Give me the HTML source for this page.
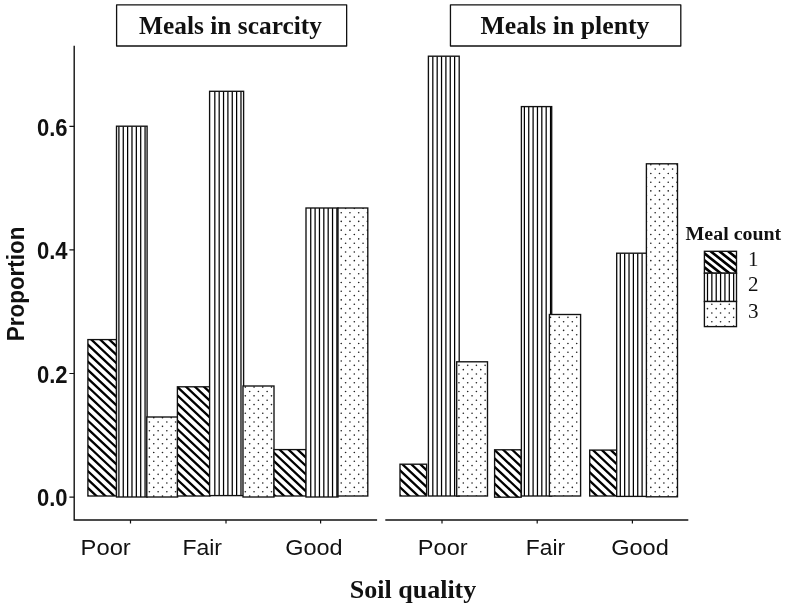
<!DOCTYPE html>
<html lang="en"><head><meta charset="utf-8"><title>Meals by soil quality</title>
<style>
html,body{margin:0;padding:0;background:#fff}
svg{display:block}
.sb{font-family:"Liberation Serif",serif;font-weight:bold;fill:#111}
.sr{font-family:"Liberation Serif",serif;fill:#111}
.ab{font-family:"Liberation Sans",sans-serif;font-weight:bold;fill:#111}
.xr{font-family:"Liberation Sans",sans-serif;fill:#111}
</style></head><body>
<svg width="785" height="607" viewBox="0 0 785 607">
<rect width="785" height="607" fill="#fff"/>
<rect x="116.6" y="4.85" width="230.05" height="41.15" fill="#fff" stroke="#111" stroke-width="1.3" stroke-linejoin="round"/>
<rect x="450.45" y="4.85" width="230.35" height="41.15" fill="#fff" stroke="#111" stroke-width="1.3" stroke-linejoin="round"/>
<text x="230.5" y="34.3" text-anchor="middle" class="sb" font-size="25.5" textLength="182.8" lengthAdjust="spacingAndGlyphs">Meals in scarcity</text>
<text x="565" y="34.3" text-anchor="middle" class="sb" font-size="25.5" textLength="169" lengthAdjust="spacingAndGlyphs">Meals in plenty</text>
<path d="M74.2 45.8V520H377.1" fill="none" stroke="#111" stroke-width="1.4"/>
<path d="M385.3 520H688.3" fill="none" stroke="#111" stroke-width="1.4"/>
<path d="M69.4 497.1H74.2M69.4 373.5H74.2M69.4 249.9H74.2M69.4 126.3H74.2M130.5 520V523.6M226.0 520V523.6M320.6 520V523.6M442.0 520V523.6M537.2 520V523.6M632.4 520V523.6" fill="none" stroke="#111" stroke-width="1.2"/>
<text x="37.0" y="506.4" class="ab" font-size="23" textLength="30.6" lengthAdjust="spacingAndGlyphs">0.0</text>
<text x="37.0" y="382.8" class="ab" font-size="23" textLength="30.6" lengthAdjust="spacingAndGlyphs">0.2</text>
<text x="37.0" y="259.2" class="ab" font-size="23" textLength="30.6" lengthAdjust="spacingAndGlyphs">0.4</text>
<text x="37.0" y="135.6" class="ab" font-size="23" textLength="30.6" lengthAdjust="spacingAndGlyphs">0.6</text>
<clipPath id="c0"><rect x="87.90" y="339.60" width="28.60" height="156.40"/></clipPath>
<rect x="87.90" y="339.60" width="28.60" height="156.40" fill="#fff"/>
<g clip-path="url(#c0)">
<path d="M84.90 308.23L119.50 340.84M84.90 316.65L119.50 349.26M84.90 325.08L119.50 357.68M84.90 333.50L119.50 366.11M84.90 341.92L119.50 374.53M84.90 350.35L119.50 382.95M84.90 358.77L119.50 391.37M84.90 367.19L119.50 399.80M84.90 375.62L119.50 408.22M84.90 384.04L119.50 416.64M84.90 392.46L119.50 425.07M84.90 400.88L119.50 433.49M84.90 409.31L119.50 441.91M84.90 417.73L119.50 450.34M84.90 426.15L119.50 458.76M84.90 434.58L119.50 467.18M84.90 443.00L119.50 475.60M84.90 451.42L119.50 484.03M84.90 459.84L119.50 492.45M84.90 468.27L119.50 500.87M84.90 476.69L119.50 509.30M84.90 485.11L119.50 517.72M84.90 493.54L119.50 526.14" stroke="#000" stroke-width="2.3" fill="none"/>
</g>
<rect x="87.90" y="339.60" width="28.60" height="156.40" fill="none" stroke="#111" stroke-width="1.35"/>
<clipPath id="c1"><rect x="116.50" y="126.20" width="30.60" height="370.80"/></clipPath>
<rect x="116.50" y="126.20" width="30.60" height="370.80" fill="#fff"/>
<g clip-path="url(#c1)">
<path d="M118.90 126.20V497.00M123.26 126.20V497.00M127.62 126.20V497.00M131.98 126.20V497.00M136.34 126.20V497.00M140.70 126.20V497.00M145.06 126.20V497.00" stroke="#000" stroke-width="1.25" fill="none"/>
</g>
<rect x="116.50" y="126.20" width="30.60" height="370.80" fill="none" stroke="#111" stroke-width="1.35"/>
<clipPath id="c2"><rect x="146.80" y="417.00" width="30.80" height="80.00"/></clipPath>
<rect x="146.80" y="417.00" width="30.80" height="80.00" fill="#fff"/>
<g clip-path="url(#c2)">
<g fill="#222"><circle cx="136.32" cy="408.92" r="0.82"/><circle cx="145.04" cy="408.92" r="0.82"/><circle cx="153.76" cy="408.92" r="0.82"/><circle cx="162.48" cy="408.92" r="0.82"/><circle cx="171.20" cy="408.92" r="0.82"/><circle cx="131.96" cy="413.28" r="0.82"/><circle cx="140.68" cy="413.28" r="0.82"/><circle cx="149.40" cy="413.28" r="0.82"/><circle cx="158.12" cy="413.28" r="0.82"/><circle cx="166.84" cy="413.28" r="0.82"/><circle cx="175.56" cy="413.28" r="0.82"/><circle cx="136.32" cy="417.64" r="0.82"/><circle cx="145.04" cy="417.64" r="0.82"/><circle cx="153.76" cy="417.64" r="0.82"/><circle cx="162.48" cy="417.64" r="0.82"/><circle cx="171.20" cy="417.64" r="0.82"/><circle cx="131.96" cy="422.00" r="0.82"/><circle cx="140.68" cy="422.00" r="0.82"/><circle cx="149.40" cy="422.00" r="0.82"/><circle cx="158.12" cy="422.00" r="0.82"/><circle cx="166.84" cy="422.00" r="0.82"/><circle cx="175.56" cy="422.00" r="0.82"/><circle cx="136.32" cy="426.36" r="0.82"/><circle cx="145.04" cy="426.36" r="0.82"/><circle cx="153.76" cy="426.36" r="0.82"/><circle cx="162.48" cy="426.36" r="0.82"/><circle cx="171.20" cy="426.36" r="0.82"/><circle cx="131.96" cy="430.72" r="0.82"/><circle cx="140.68" cy="430.72" r="0.82"/><circle cx="149.40" cy="430.72" r="0.82"/><circle cx="158.12" cy="430.72" r="0.82"/><circle cx="166.84" cy="430.72" r="0.82"/><circle cx="175.56" cy="430.72" r="0.82"/><circle cx="136.32" cy="435.08" r="0.82"/><circle cx="145.04" cy="435.08" r="0.82"/><circle cx="153.76" cy="435.08" r="0.82"/><circle cx="162.48" cy="435.08" r="0.82"/><circle cx="171.20" cy="435.08" r="0.82"/><circle cx="131.96" cy="439.44" r="0.82"/><circle cx="140.68" cy="439.44" r="0.82"/><circle cx="149.40" cy="439.44" r="0.82"/><circle cx="158.12" cy="439.44" r="0.82"/><circle cx="166.84" cy="439.44" r="0.82"/><circle cx="175.56" cy="439.44" r="0.82"/><circle cx="136.32" cy="443.80" r="0.82"/><circle cx="145.04" cy="443.80" r="0.82"/><circle cx="153.76" cy="443.80" r="0.82"/><circle cx="162.48" cy="443.80" r="0.82"/><circle cx="171.20" cy="443.80" r="0.82"/><circle cx="131.96" cy="448.16" r="0.82"/><circle cx="140.68" cy="448.16" r="0.82"/><circle cx="149.40" cy="448.16" r="0.82"/><circle cx="158.12" cy="448.16" r="0.82"/><circle cx="166.84" cy="448.16" r="0.82"/><circle cx="175.56" cy="448.16" r="0.82"/><circle cx="136.32" cy="452.52" r="0.82"/><circle cx="145.04" cy="452.52" r="0.82"/><circle cx="153.76" cy="452.52" r="0.82"/><circle cx="162.48" cy="452.52" r="0.82"/><circle cx="171.20" cy="452.52" r="0.82"/><circle cx="131.96" cy="456.88" r="0.82"/><circle cx="140.68" cy="456.88" r="0.82"/><circle cx="149.40" cy="456.88" r="0.82"/><circle cx="158.12" cy="456.88" r="0.82"/><circle cx="166.84" cy="456.88" r="0.82"/><circle cx="175.56" cy="456.88" r="0.82"/><circle cx="136.32" cy="461.24" r="0.82"/><circle cx="145.04" cy="461.24" r="0.82"/><circle cx="153.76" cy="461.24" r="0.82"/><circle cx="162.48" cy="461.24" r="0.82"/><circle cx="171.20" cy="461.24" r="0.82"/><circle cx="131.96" cy="465.60" r="0.82"/><circle cx="140.68" cy="465.60" r="0.82"/><circle cx="149.40" cy="465.60" r="0.82"/><circle cx="158.12" cy="465.60" r="0.82"/><circle cx="166.84" cy="465.60" r="0.82"/><circle cx="175.56" cy="465.60" r="0.82"/><circle cx="136.32" cy="469.96" r="0.82"/><circle cx="145.04" cy="469.96" r="0.82"/><circle cx="153.76" cy="469.96" r="0.82"/><circle cx="162.48" cy="469.96" r="0.82"/><circle cx="171.20" cy="469.96" r="0.82"/><circle cx="131.96" cy="474.32" r="0.82"/><circle cx="140.68" cy="474.32" r="0.82"/><circle cx="149.40" cy="474.32" r="0.82"/><circle cx="158.12" cy="474.32" r="0.82"/><circle cx="166.84" cy="474.32" r="0.82"/><circle cx="175.56" cy="474.32" r="0.82"/><circle cx="136.32" cy="478.68" r="0.82"/><circle cx="145.04" cy="478.68" r="0.82"/><circle cx="153.76" cy="478.68" r="0.82"/><circle cx="162.48" cy="478.68" r="0.82"/><circle cx="171.20" cy="478.68" r="0.82"/><circle cx="131.96" cy="483.04" r="0.82"/><circle cx="140.68" cy="483.04" r="0.82"/><circle cx="149.40" cy="483.04" r="0.82"/><circle cx="158.12" cy="483.04" r="0.82"/><circle cx="166.84" cy="483.04" r="0.82"/><circle cx="175.56" cy="483.04" r="0.82"/><circle cx="136.32" cy="487.40" r="0.82"/><circle cx="145.04" cy="487.40" r="0.82"/><circle cx="153.76" cy="487.40" r="0.82"/><circle cx="162.48" cy="487.40" r="0.82"/><circle cx="171.20" cy="487.40" r="0.82"/><circle cx="131.96" cy="491.76" r="0.82"/><circle cx="140.68" cy="491.76" r="0.82"/><circle cx="149.40" cy="491.76" r="0.82"/><circle cx="158.12" cy="491.76" r="0.82"/><circle cx="166.84" cy="491.76" r="0.82"/><circle cx="175.56" cy="491.76" r="0.82"/><circle cx="136.32" cy="496.12" r="0.82"/><circle cx="145.04" cy="496.12" r="0.82"/><circle cx="153.76" cy="496.12" r="0.82"/><circle cx="162.48" cy="496.12" r="0.82"/><circle cx="171.20" cy="496.12" r="0.82"/></g>
</g>
<rect x="146.80" y="417.00" width="30.80" height="80.00" fill="none" stroke="#111" stroke-width="1.35"/>
<clipPath id="c3"><rect x="177.40" y="386.80" width="32.60" height="109.20"/></clipPath>
<rect x="177.40" y="386.80" width="32.60" height="109.20" fill="#fff"/>
<g clip-path="url(#c3)">
<path d="M174.40 350.46L213.00 386.83M174.40 358.88L213.00 395.26M174.40 367.30L213.00 403.68M174.40 375.73L213.00 412.10M174.40 384.15L213.00 420.52M174.40 392.57L213.00 428.95M174.40 401.00L213.00 437.37M174.40 409.42L213.00 445.79M174.40 417.84L213.00 454.22M174.40 426.26L213.00 462.64M174.40 434.69L213.00 471.06M174.40 443.11L213.00 479.48M174.40 451.53L213.00 487.91M174.40 459.96L213.00 496.33M174.40 468.38L213.00 504.75M174.40 476.80L213.00 513.18M174.40 485.22L213.00 521.60M174.40 493.65L213.00 530.02" stroke="#000" stroke-width="2.3" fill="none"/>
</g>
<rect x="177.40" y="386.80" width="32.60" height="109.20" fill="none" stroke="#111" stroke-width="1.35"/>
<clipPath id="c4"><rect x="209.60" y="91.30" width="34.00" height="404.30"/></clipPath>
<rect x="209.60" y="91.30" width="34.00" height="404.30" fill="#fff"/>
<g clip-path="url(#c4)">
<path d="M214.82 91.30V495.60M219.18 91.30V495.60M223.54 91.30V495.60M227.90 91.30V495.60M232.26 91.30V495.60M236.62 91.30V495.60M240.98 91.30V495.60" stroke="#000" stroke-width="1.25" fill="none"/>
</g>
<rect x="209.60" y="91.30" width="34.00" height="404.30" fill="none" stroke="#111" stroke-width="1.35"/>
<clipPath id="c5"><rect x="243.00" y="386.00" width="31.00" height="111.00"/></clipPath>
<rect x="243.00" y="386.00" width="31.00" height="111.00" fill="#fff"/>
<g clip-path="url(#c5)">
<g fill="#222"><circle cx="227.88" cy="378.40" r="0.82"/><circle cx="236.60" cy="378.40" r="0.82"/><circle cx="245.32" cy="378.40" r="0.82"/><circle cx="254.04" cy="378.40" r="0.82"/><circle cx="262.76" cy="378.40" r="0.82"/><circle cx="271.48" cy="378.40" r="0.82"/><circle cx="232.24" cy="382.76" r="0.82"/><circle cx="240.96" cy="382.76" r="0.82"/><circle cx="249.68" cy="382.76" r="0.82"/><circle cx="258.40" cy="382.76" r="0.82"/><circle cx="267.12" cy="382.76" r="0.82"/><circle cx="275.84" cy="382.76" r="0.82"/><circle cx="227.88" cy="387.12" r="0.82"/><circle cx="236.60" cy="387.12" r="0.82"/><circle cx="245.32" cy="387.12" r="0.82"/><circle cx="254.04" cy="387.12" r="0.82"/><circle cx="262.76" cy="387.12" r="0.82"/><circle cx="271.48" cy="387.12" r="0.82"/><circle cx="232.24" cy="391.48" r="0.82"/><circle cx="240.96" cy="391.48" r="0.82"/><circle cx="249.68" cy="391.48" r="0.82"/><circle cx="258.40" cy="391.48" r="0.82"/><circle cx="267.12" cy="391.48" r="0.82"/><circle cx="275.84" cy="391.48" r="0.82"/><circle cx="227.88" cy="395.84" r="0.82"/><circle cx="236.60" cy="395.84" r="0.82"/><circle cx="245.32" cy="395.84" r="0.82"/><circle cx="254.04" cy="395.84" r="0.82"/><circle cx="262.76" cy="395.84" r="0.82"/><circle cx="271.48" cy="395.84" r="0.82"/><circle cx="232.24" cy="400.20" r="0.82"/><circle cx="240.96" cy="400.20" r="0.82"/><circle cx="249.68" cy="400.20" r="0.82"/><circle cx="258.40" cy="400.20" r="0.82"/><circle cx="267.12" cy="400.20" r="0.82"/><circle cx="275.84" cy="400.20" r="0.82"/><circle cx="227.88" cy="404.56" r="0.82"/><circle cx="236.60" cy="404.56" r="0.82"/><circle cx="245.32" cy="404.56" r="0.82"/><circle cx="254.04" cy="404.56" r="0.82"/><circle cx="262.76" cy="404.56" r="0.82"/><circle cx="271.48" cy="404.56" r="0.82"/><circle cx="232.24" cy="408.92" r="0.82"/><circle cx="240.96" cy="408.92" r="0.82"/><circle cx="249.68" cy="408.92" r="0.82"/><circle cx="258.40" cy="408.92" r="0.82"/><circle cx="267.12" cy="408.92" r="0.82"/><circle cx="275.84" cy="408.92" r="0.82"/><circle cx="227.88" cy="413.28" r="0.82"/><circle cx="236.60" cy="413.28" r="0.82"/><circle cx="245.32" cy="413.28" r="0.82"/><circle cx="254.04" cy="413.28" r="0.82"/><circle cx="262.76" cy="413.28" r="0.82"/><circle cx="271.48" cy="413.28" r="0.82"/><circle cx="232.24" cy="417.64" r="0.82"/><circle cx="240.96" cy="417.64" r="0.82"/><circle cx="249.68" cy="417.64" r="0.82"/><circle cx="258.40" cy="417.64" r="0.82"/><circle cx="267.12" cy="417.64" r="0.82"/><circle cx="275.84" cy="417.64" r="0.82"/><circle cx="227.88" cy="422.00" r="0.82"/><circle cx="236.60" cy="422.00" r="0.82"/><circle cx="245.32" cy="422.00" r="0.82"/><circle cx="254.04" cy="422.00" r="0.82"/><circle cx="262.76" cy="422.00" r="0.82"/><circle cx="271.48" cy="422.00" r="0.82"/><circle cx="232.24" cy="426.36" r="0.82"/><circle cx="240.96" cy="426.36" r="0.82"/><circle cx="249.68" cy="426.36" r="0.82"/><circle cx="258.40" cy="426.36" r="0.82"/><circle cx="267.12" cy="426.36" r="0.82"/><circle cx="275.84" cy="426.36" r="0.82"/><circle cx="227.88" cy="430.72" r="0.82"/><circle cx="236.60" cy="430.72" r="0.82"/><circle cx="245.32" cy="430.72" r="0.82"/><circle cx="254.04" cy="430.72" r="0.82"/><circle cx="262.76" cy="430.72" r="0.82"/><circle cx="271.48" cy="430.72" r="0.82"/><circle cx="232.24" cy="435.08" r="0.82"/><circle cx="240.96" cy="435.08" r="0.82"/><circle cx="249.68" cy="435.08" r="0.82"/><circle cx="258.40" cy="435.08" r="0.82"/><circle cx="267.12" cy="435.08" r="0.82"/><circle cx="275.84" cy="435.08" r="0.82"/><circle cx="227.88" cy="439.44" r="0.82"/><circle cx="236.60" cy="439.44" r="0.82"/><circle cx="245.32" cy="439.44" r="0.82"/><circle cx="254.04" cy="439.44" r="0.82"/><circle cx="262.76" cy="439.44" r="0.82"/><circle cx="271.48" cy="439.44" r="0.82"/><circle cx="232.24" cy="443.80" r="0.82"/><circle cx="240.96" cy="443.80" r="0.82"/><circle cx="249.68" cy="443.80" r="0.82"/><circle cx="258.40" cy="443.80" r="0.82"/><circle cx="267.12" cy="443.80" r="0.82"/><circle cx="275.84" cy="443.80" r="0.82"/><circle cx="227.88" cy="448.16" r="0.82"/><circle cx="236.60" cy="448.16" r="0.82"/><circle cx="245.32" cy="448.16" r="0.82"/><circle cx="254.04" cy="448.16" r="0.82"/><circle cx="262.76" cy="448.16" r="0.82"/><circle cx="271.48" cy="448.16" r="0.82"/><circle cx="232.24" cy="452.52" r="0.82"/><circle cx="240.96" cy="452.52" r="0.82"/><circle cx="249.68" cy="452.52" r="0.82"/><circle cx="258.40" cy="452.52" r="0.82"/><circle cx="267.12" cy="452.52" r="0.82"/><circle cx="275.84" cy="452.52" r="0.82"/><circle cx="227.88" cy="456.88" r="0.82"/><circle cx="236.60" cy="456.88" r="0.82"/><circle cx="245.32" cy="456.88" r="0.82"/><circle cx="254.04" cy="456.88" r="0.82"/><circle cx="262.76" cy="456.88" r="0.82"/><circle cx="271.48" cy="456.88" r="0.82"/><circle cx="232.24" cy="461.24" r="0.82"/><circle cx="240.96" cy="461.24" r="0.82"/><circle cx="249.68" cy="461.24" r="0.82"/><circle cx="258.40" cy="461.24" r="0.82"/><circle cx="267.12" cy="461.24" r="0.82"/><circle cx="275.84" cy="461.24" r="0.82"/><circle cx="227.88" cy="465.60" r="0.82"/><circle cx="236.60" cy="465.60" r="0.82"/><circle cx="245.32" cy="465.60" r="0.82"/><circle cx="254.04" cy="465.60" r="0.82"/><circle cx="262.76" cy="465.60" r="0.82"/><circle cx="271.48" cy="465.60" r="0.82"/><circle cx="232.24" cy="469.96" r="0.82"/><circle cx="240.96" cy="469.96" r="0.82"/><circle cx="249.68" cy="469.96" r="0.82"/><circle cx="258.40" cy="469.96" r="0.82"/><circle cx="267.12" cy="469.96" r="0.82"/><circle cx="275.84" cy="469.96" r="0.82"/><circle cx="227.88" cy="474.32" r="0.82"/><circle cx="236.60" cy="474.32" r="0.82"/><circle cx="245.32" cy="474.32" r="0.82"/><circle cx="254.04" cy="474.32" r="0.82"/><circle cx="262.76" cy="474.32" r="0.82"/><circle cx="271.48" cy="474.32" r="0.82"/><circle cx="232.24" cy="478.68" r="0.82"/><circle cx="240.96" cy="478.68" r="0.82"/><circle cx="249.68" cy="478.68" r="0.82"/><circle cx="258.40" cy="478.68" r="0.82"/><circle cx="267.12" cy="478.68" r="0.82"/><circle cx="275.84" cy="478.68" r="0.82"/><circle cx="227.88" cy="483.04" r="0.82"/><circle cx="236.60" cy="483.04" r="0.82"/><circle cx="245.32" cy="483.04" r="0.82"/><circle cx="254.04" cy="483.04" r="0.82"/><circle cx="262.76" cy="483.04" r="0.82"/><circle cx="271.48" cy="483.04" r="0.82"/><circle cx="232.24" cy="487.40" r="0.82"/><circle cx="240.96" cy="487.40" r="0.82"/><circle cx="249.68" cy="487.40" r="0.82"/><circle cx="258.40" cy="487.40" r="0.82"/><circle cx="267.12" cy="487.40" r="0.82"/><circle cx="275.84" cy="487.40" r="0.82"/><circle cx="227.88" cy="491.76" r="0.82"/><circle cx="236.60" cy="491.76" r="0.82"/><circle cx="245.32" cy="491.76" r="0.82"/><circle cx="254.04" cy="491.76" r="0.82"/><circle cx="262.76" cy="491.76" r="0.82"/><circle cx="271.48" cy="491.76" r="0.82"/><circle cx="232.24" cy="496.12" r="0.82"/><circle cx="240.96" cy="496.12" r="0.82"/><circle cx="249.68" cy="496.12" r="0.82"/><circle cx="258.40" cy="496.12" r="0.82"/><circle cx="267.12" cy="496.12" r="0.82"/><circle cx="275.84" cy="496.12" r="0.82"/></g>
</g>
<rect x="243.00" y="386.00" width="31.00" height="111.00" fill="none" stroke="#111" stroke-width="1.35"/>
<clipPath id="c6"><rect x="274.00" y="449.60" width="32.00" height="46.40"/></clipPath>
<rect x="274.00" y="449.60" width="32.00" height="46.40" fill="#fff"/>
<g clip-path="url(#c6)">
<path d="M271.00 416.22L309.00 452.03M271.00 424.64L309.00 460.45M271.00 433.07L309.00 468.87M271.00 441.49L309.00 477.30M271.00 449.91L309.00 485.72M271.00 458.33L309.00 494.14M271.00 466.76L309.00 502.57M271.00 475.18L309.00 510.99M271.00 483.60L309.00 519.41M271.00 492.03L309.00 527.84M271.00 500.45L309.00 536.26" stroke="#000" stroke-width="2.3" fill="none"/>
</g>
<rect x="274.00" y="449.60" width="32.00" height="46.40" fill="none" stroke="#111" stroke-width="1.35"/>
<clipPath id="c7"><rect x="306.00" y="208.00" width="32.00" height="289.00"/></clipPath>
<rect x="306.00" y="208.00" width="32.00" height="289.00" fill="#fff"/>
<g clip-path="url(#c7)">
<path d="M310.74 208.00V497.00M315.10 208.00V497.00M319.46 208.00V497.00M323.82 208.00V497.00M328.18 208.00V497.00M332.54 208.00V497.00M336.90 208.00V497.00" stroke="#000" stroke-width="1.25" fill="none"/>
</g>
<rect x="306.00" y="208.00" width="32.00" height="289.00" fill="none" stroke="#111" stroke-width="1.35"/>
<clipPath id="c8"><rect x="338.00" y="208.00" width="29.80" height="288.00"/></clipPath>
<rect x="338.00" y="208.00" width="29.80" height="288.00" fill="#fff"/>
<g clip-path="url(#c8)">
<g fill="#222"><circle cx="328.16" cy="199.64" r="0.82"/><circle cx="336.88" cy="199.64" r="0.82"/><circle cx="345.60" cy="199.64" r="0.82"/><circle cx="354.32" cy="199.64" r="0.82"/><circle cx="363.04" cy="199.64" r="0.82"/><circle cx="323.80" cy="204.00" r="0.82"/><circle cx="332.52" cy="204.00" r="0.82"/><circle cx="341.24" cy="204.00" r="0.82"/><circle cx="349.96" cy="204.00" r="0.82"/><circle cx="358.68" cy="204.00" r="0.82"/><circle cx="367.40" cy="204.00" r="0.82"/><circle cx="328.16" cy="208.36" r="0.82"/><circle cx="336.88" cy="208.36" r="0.82"/><circle cx="345.60" cy="208.36" r="0.82"/><circle cx="354.32" cy="208.36" r="0.82"/><circle cx="363.04" cy="208.36" r="0.82"/><circle cx="323.80" cy="212.72" r="0.82"/><circle cx="332.52" cy="212.72" r="0.82"/><circle cx="341.24" cy="212.72" r="0.82"/><circle cx="349.96" cy="212.72" r="0.82"/><circle cx="358.68" cy="212.72" r="0.82"/><circle cx="367.40" cy="212.72" r="0.82"/><circle cx="328.16" cy="217.08" r="0.82"/><circle cx="336.88" cy="217.08" r="0.82"/><circle cx="345.60" cy="217.08" r="0.82"/><circle cx="354.32" cy="217.08" r="0.82"/><circle cx="363.04" cy="217.08" r="0.82"/><circle cx="323.80" cy="221.44" r="0.82"/><circle cx="332.52" cy="221.44" r="0.82"/><circle cx="341.24" cy="221.44" r="0.82"/><circle cx="349.96" cy="221.44" r="0.82"/><circle cx="358.68" cy="221.44" r="0.82"/><circle cx="367.40" cy="221.44" r="0.82"/><circle cx="328.16" cy="225.80" r="0.82"/><circle cx="336.88" cy="225.80" r="0.82"/><circle cx="345.60" cy="225.80" r="0.82"/><circle cx="354.32" cy="225.80" r="0.82"/><circle cx="363.04" cy="225.80" r="0.82"/><circle cx="323.80" cy="230.16" r="0.82"/><circle cx="332.52" cy="230.16" r="0.82"/><circle cx="341.24" cy="230.16" r="0.82"/><circle cx="349.96" cy="230.16" r="0.82"/><circle cx="358.68" cy="230.16" r="0.82"/><circle cx="367.40" cy="230.16" r="0.82"/><circle cx="328.16" cy="234.52" r="0.82"/><circle cx="336.88" cy="234.52" r="0.82"/><circle cx="345.60" cy="234.52" r="0.82"/><circle cx="354.32" cy="234.52" r="0.82"/><circle cx="363.04" cy="234.52" r="0.82"/><circle cx="323.80" cy="238.88" r="0.82"/><circle cx="332.52" cy="238.88" r="0.82"/><circle cx="341.24" cy="238.88" r="0.82"/><circle cx="349.96" cy="238.88" r="0.82"/><circle cx="358.68" cy="238.88" r="0.82"/><circle cx="367.40" cy="238.88" r="0.82"/><circle cx="328.16" cy="243.24" r="0.82"/><circle cx="336.88" cy="243.24" r="0.82"/><circle cx="345.60" cy="243.24" r="0.82"/><circle cx="354.32" cy="243.24" r="0.82"/><circle cx="363.04" cy="243.24" r="0.82"/><circle cx="323.80" cy="247.60" r="0.82"/><circle cx="332.52" cy="247.60" r="0.82"/><circle cx="341.24" cy="247.60" r="0.82"/><circle cx="349.96" cy="247.60" r="0.82"/><circle cx="358.68" cy="247.60" r="0.82"/><circle cx="367.40" cy="247.60" r="0.82"/><circle cx="328.16" cy="251.96" r="0.82"/><circle cx="336.88" cy="251.96" r="0.82"/><circle cx="345.60" cy="251.96" r="0.82"/><circle cx="354.32" cy="251.96" r="0.82"/><circle cx="363.04" cy="251.96" r="0.82"/><circle cx="323.80" cy="256.32" r="0.82"/><circle cx="332.52" cy="256.32" r="0.82"/><circle cx="341.24" cy="256.32" r="0.82"/><circle cx="349.96" cy="256.32" r="0.82"/><circle cx="358.68" cy="256.32" r="0.82"/><circle cx="367.40" cy="256.32" r="0.82"/><circle cx="328.16" cy="260.68" r="0.82"/><circle cx="336.88" cy="260.68" r="0.82"/><circle cx="345.60" cy="260.68" r="0.82"/><circle cx="354.32" cy="260.68" r="0.82"/><circle cx="363.04" cy="260.68" r="0.82"/><circle cx="323.80" cy="265.04" r="0.82"/><circle cx="332.52" cy="265.04" r="0.82"/><circle cx="341.24" cy="265.04" r="0.82"/><circle cx="349.96" cy="265.04" r="0.82"/><circle cx="358.68" cy="265.04" r="0.82"/><circle cx="367.40" cy="265.04" r="0.82"/><circle cx="328.16" cy="269.40" r="0.82"/><circle cx="336.88" cy="269.40" r="0.82"/><circle cx="345.60" cy="269.40" r="0.82"/><circle cx="354.32" cy="269.40" r="0.82"/><circle cx="363.04" cy="269.40" r="0.82"/><circle cx="323.80" cy="273.76" r="0.82"/><circle cx="332.52" cy="273.76" r="0.82"/><circle cx="341.24" cy="273.76" r="0.82"/><circle cx="349.96" cy="273.76" r="0.82"/><circle cx="358.68" cy="273.76" r="0.82"/><circle cx="367.40" cy="273.76" r="0.82"/><circle cx="328.16" cy="278.12" r="0.82"/><circle cx="336.88" cy="278.12" r="0.82"/><circle cx="345.60" cy="278.12" r="0.82"/><circle cx="354.32" cy="278.12" r="0.82"/><circle cx="363.04" cy="278.12" r="0.82"/><circle cx="323.80" cy="282.48" r="0.82"/><circle cx="332.52" cy="282.48" r="0.82"/><circle cx="341.24" cy="282.48" r="0.82"/><circle cx="349.96" cy="282.48" r="0.82"/><circle cx="358.68" cy="282.48" r="0.82"/><circle cx="367.40" cy="282.48" r="0.82"/><circle cx="328.16" cy="286.84" r="0.82"/><circle cx="336.88" cy="286.84" r="0.82"/><circle cx="345.60" cy="286.84" r="0.82"/><circle cx="354.32" cy="286.84" r="0.82"/><circle cx="363.04" cy="286.84" r="0.82"/><circle cx="323.80" cy="291.20" r="0.82"/><circle cx="332.52" cy="291.20" r="0.82"/><circle cx="341.24" cy="291.20" r="0.82"/><circle cx="349.96" cy="291.20" r="0.82"/><circle cx="358.68" cy="291.20" r="0.82"/><circle cx="367.40" cy="291.20" r="0.82"/><circle cx="328.16" cy="295.56" r="0.82"/><circle cx="336.88" cy="295.56" r="0.82"/><circle cx="345.60" cy="295.56" r="0.82"/><circle cx="354.32" cy="295.56" r="0.82"/><circle cx="363.04" cy="295.56" r="0.82"/><circle cx="323.80" cy="299.92" r="0.82"/><circle cx="332.52" cy="299.92" r="0.82"/><circle cx="341.24" cy="299.92" r="0.82"/><circle cx="349.96" cy="299.92" r="0.82"/><circle cx="358.68" cy="299.92" r="0.82"/><circle cx="367.40" cy="299.92" r="0.82"/><circle cx="328.16" cy="304.28" r="0.82"/><circle cx="336.88" cy="304.28" r="0.82"/><circle cx="345.60" cy="304.28" r="0.82"/><circle cx="354.32" cy="304.28" r="0.82"/><circle cx="363.04" cy="304.28" r="0.82"/><circle cx="323.80" cy="308.64" r="0.82"/><circle cx="332.52" cy="308.64" r="0.82"/><circle cx="341.24" cy="308.64" r="0.82"/><circle cx="349.96" cy="308.64" r="0.82"/><circle cx="358.68" cy="308.64" r="0.82"/><circle cx="367.40" cy="308.64" r="0.82"/><circle cx="328.16" cy="313.00" r="0.82"/><circle cx="336.88" cy="313.00" r="0.82"/><circle cx="345.60" cy="313.00" r="0.82"/><circle cx="354.32" cy="313.00" r="0.82"/><circle cx="363.04" cy="313.00" r="0.82"/><circle cx="323.80" cy="317.36" r="0.82"/><circle cx="332.52" cy="317.36" r="0.82"/><circle cx="341.24" cy="317.36" r="0.82"/><circle cx="349.96" cy="317.36" r="0.82"/><circle cx="358.68" cy="317.36" r="0.82"/><circle cx="367.40" cy="317.36" r="0.82"/><circle cx="328.16" cy="321.72" r="0.82"/><circle cx="336.88" cy="321.72" r="0.82"/><circle cx="345.60" cy="321.72" r="0.82"/><circle cx="354.32" cy="321.72" r="0.82"/><circle cx="363.04" cy="321.72" r="0.82"/><circle cx="323.80" cy="326.08" r="0.82"/><circle cx="332.52" cy="326.08" r="0.82"/><circle cx="341.24" cy="326.08" r="0.82"/><circle cx="349.96" cy="326.08" r="0.82"/><circle cx="358.68" cy="326.08" r="0.82"/><circle cx="367.40" cy="326.08" r="0.82"/><circle cx="328.16" cy="330.44" r="0.82"/><circle cx="336.88" cy="330.44" r="0.82"/><circle cx="345.60" cy="330.44" r="0.82"/><circle cx="354.32" cy="330.44" r="0.82"/><circle cx="363.04" cy="330.44" r="0.82"/><circle cx="323.80" cy="334.80" r="0.82"/><circle cx="332.52" cy="334.80" r="0.82"/><circle cx="341.24" cy="334.80" r="0.82"/><circle cx="349.96" cy="334.80" r="0.82"/><circle cx="358.68" cy="334.80" r="0.82"/><circle cx="367.40" cy="334.80" r="0.82"/><circle cx="328.16" cy="339.16" r="0.82"/><circle cx="336.88" cy="339.16" r="0.82"/><circle cx="345.60" cy="339.16" r="0.82"/><circle cx="354.32" cy="339.16" r="0.82"/><circle cx="363.04" cy="339.16" r="0.82"/><circle cx="323.80" cy="343.52" r="0.82"/><circle cx="332.52" cy="343.52" r="0.82"/><circle cx="341.24" cy="343.52" r="0.82"/><circle cx="349.96" cy="343.52" r="0.82"/><circle cx="358.68" cy="343.52" r="0.82"/><circle cx="367.40" cy="343.52" r="0.82"/><circle cx="328.16" cy="347.88" r="0.82"/><circle cx="336.88" cy="347.88" r="0.82"/><circle cx="345.60" cy="347.88" r="0.82"/><circle cx="354.32" cy="347.88" r="0.82"/><circle cx="363.04" cy="347.88" r="0.82"/><circle cx="323.80" cy="352.24" r="0.82"/><circle cx="332.52" cy="352.24" r="0.82"/><circle cx="341.24" cy="352.24" r="0.82"/><circle cx="349.96" cy="352.24" r="0.82"/><circle cx="358.68" cy="352.24" r="0.82"/><circle cx="367.40" cy="352.24" r="0.82"/><circle cx="328.16" cy="356.60" r="0.82"/><circle cx="336.88" cy="356.60" r="0.82"/><circle cx="345.60" cy="356.60" r="0.82"/><circle cx="354.32" cy="356.60" r="0.82"/><circle cx="363.04" cy="356.60" r="0.82"/><circle cx="323.80" cy="360.96" r="0.82"/><circle cx="332.52" cy="360.96" r="0.82"/><circle cx="341.24" cy="360.96" r="0.82"/><circle cx="349.96" cy="360.96" r="0.82"/><circle cx="358.68" cy="360.96" r="0.82"/><circle cx="367.40" cy="360.96" r="0.82"/><circle cx="328.16" cy="365.32" r="0.82"/><circle cx="336.88" cy="365.32" r="0.82"/><circle cx="345.60" cy="365.32" r="0.82"/><circle cx="354.32" cy="365.32" r="0.82"/><circle cx="363.04" cy="365.32" r="0.82"/><circle cx="323.80" cy="369.68" r="0.82"/><circle cx="332.52" cy="369.68" r="0.82"/><circle cx="341.24" cy="369.68" r="0.82"/><circle cx="349.96" cy="369.68" r="0.82"/><circle cx="358.68" cy="369.68" r="0.82"/><circle cx="367.40" cy="369.68" r="0.82"/><circle cx="328.16" cy="374.04" r="0.82"/><circle cx="336.88" cy="374.04" r="0.82"/><circle cx="345.60" cy="374.04" r="0.82"/><circle cx="354.32" cy="374.04" r="0.82"/><circle cx="363.04" cy="374.04" r="0.82"/><circle cx="323.80" cy="378.40" r="0.82"/><circle cx="332.52" cy="378.40" r="0.82"/><circle cx="341.24" cy="378.40" r="0.82"/><circle cx="349.96" cy="378.40" r="0.82"/><circle cx="358.68" cy="378.40" r="0.82"/><circle cx="367.40" cy="378.40" r="0.82"/><circle cx="328.16" cy="382.76" r="0.82"/><circle cx="336.88" cy="382.76" r="0.82"/><circle cx="345.60" cy="382.76" r="0.82"/><circle cx="354.32" cy="382.76" r="0.82"/><circle cx="363.04" cy="382.76" r="0.82"/><circle cx="323.80" cy="387.12" r="0.82"/><circle cx="332.52" cy="387.12" r="0.82"/><circle cx="341.24" cy="387.12" r="0.82"/><circle cx="349.96" cy="387.12" r="0.82"/><circle cx="358.68" cy="387.12" r="0.82"/><circle cx="367.40" cy="387.12" r="0.82"/><circle cx="328.16" cy="391.48" r="0.82"/><circle cx="336.88" cy="391.48" r="0.82"/><circle cx="345.60" cy="391.48" r="0.82"/><circle cx="354.32" cy="391.48" r="0.82"/><circle cx="363.04" cy="391.48" r="0.82"/><circle cx="323.80" cy="395.84" r="0.82"/><circle cx="332.52" cy="395.84" r="0.82"/><circle cx="341.24" cy="395.84" r="0.82"/><circle cx="349.96" cy="395.84" r="0.82"/><circle cx="358.68" cy="395.84" r="0.82"/><circle cx="367.40" cy="395.84" r="0.82"/><circle cx="328.16" cy="400.20" r="0.82"/><circle cx="336.88" cy="400.20" r="0.82"/><circle cx="345.60" cy="400.20" r="0.82"/><circle cx="354.32" cy="400.20" r="0.82"/><circle cx="363.04" cy="400.20" r="0.82"/><circle cx="323.80" cy="404.56" r="0.82"/><circle cx="332.52" cy="404.56" r="0.82"/><circle cx="341.24" cy="404.56" r="0.82"/><circle cx="349.96" cy="404.56" r="0.82"/><circle cx="358.68" cy="404.56" r="0.82"/><circle cx="367.40" cy="404.56" r="0.82"/><circle cx="328.16" cy="408.92" r="0.82"/><circle cx="336.88" cy="408.92" r="0.82"/><circle cx="345.60" cy="408.92" r="0.82"/><circle cx="354.32" cy="408.92" r="0.82"/><circle cx="363.04" cy="408.92" r="0.82"/><circle cx="323.80" cy="413.28" r="0.82"/><circle cx="332.52" cy="413.28" r="0.82"/><circle cx="341.24" cy="413.28" r="0.82"/><circle cx="349.96" cy="413.28" r="0.82"/><circle cx="358.68" cy="413.28" r="0.82"/><circle cx="367.40" cy="413.28" r="0.82"/><circle cx="328.16" cy="417.64" r="0.82"/><circle cx="336.88" cy="417.64" r="0.82"/><circle cx="345.60" cy="417.64" r="0.82"/><circle cx="354.32" cy="417.64" r="0.82"/><circle cx="363.04" cy="417.64" r="0.82"/><circle cx="323.80" cy="422.00" r="0.82"/><circle cx="332.52" cy="422.00" r="0.82"/><circle cx="341.24" cy="422.00" r="0.82"/><circle cx="349.96" cy="422.00" r="0.82"/><circle cx="358.68" cy="422.00" r="0.82"/><circle cx="367.40" cy="422.00" r="0.82"/><circle cx="328.16" cy="426.36" r="0.82"/><circle cx="336.88" cy="426.36" r="0.82"/><circle cx="345.60" cy="426.36" r="0.82"/><circle cx="354.32" cy="426.36" r="0.82"/><circle cx="363.04" cy="426.36" r="0.82"/><circle cx="323.80" cy="430.72" r="0.82"/><circle cx="332.52" cy="430.72" r="0.82"/><circle cx="341.24" cy="430.72" r="0.82"/><circle cx="349.96" cy="430.72" r="0.82"/><circle cx="358.68" cy="430.72" r="0.82"/><circle cx="367.40" cy="430.72" r="0.82"/><circle cx="328.16" cy="435.08" r="0.82"/><circle cx="336.88" cy="435.08" r="0.82"/><circle cx="345.60" cy="435.08" r="0.82"/><circle cx="354.32" cy="435.08" r="0.82"/><circle cx="363.04" cy="435.08" r="0.82"/><circle cx="323.80" cy="439.44" r="0.82"/><circle cx="332.52" cy="439.44" r="0.82"/><circle cx="341.24" cy="439.44" r="0.82"/><circle cx="349.96" cy="439.44" r="0.82"/><circle cx="358.68" cy="439.44" r="0.82"/><circle cx="367.40" cy="439.44" r="0.82"/><circle cx="328.16" cy="443.80" r="0.82"/><circle cx="336.88" cy="443.80" r="0.82"/><circle cx="345.60" cy="443.80" r="0.82"/><circle cx="354.32" cy="443.80" r="0.82"/><circle cx="363.04" cy="443.80" r="0.82"/><circle cx="323.80" cy="448.16" r="0.82"/><circle cx="332.52" cy="448.16" r="0.82"/><circle cx="341.24" cy="448.16" r="0.82"/><circle cx="349.96" cy="448.16" r="0.82"/><circle cx="358.68" cy="448.16" r="0.82"/><circle cx="367.40" cy="448.16" r="0.82"/><circle cx="328.16" cy="452.52" r="0.82"/><circle cx="336.88" cy="452.52" r="0.82"/><circle cx="345.60" cy="452.52" r="0.82"/><circle cx="354.32" cy="452.52" r="0.82"/><circle cx="363.04" cy="452.52" r="0.82"/><circle cx="323.80" cy="456.88" r="0.82"/><circle cx="332.52" cy="456.88" r="0.82"/><circle cx="341.24" cy="456.88" r="0.82"/><circle cx="349.96" cy="456.88" r="0.82"/><circle cx="358.68" cy="456.88" r="0.82"/><circle cx="367.40" cy="456.88" r="0.82"/><circle cx="328.16" cy="461.24" r="0.82"/><circle cx="336.88" cy="461.24" r="0.82"/><circle cx="345.60" cy="461.24" r="0.82"/><circle cx="354.32" cy="461.24" r="0.82"/><circle cx="363.04" cy="461.24" r="0.82"/><circle cx="323.80" cy="465.60" r="0.82"/><circle cx="332.52" cy="465.60" r="0.82"/><circle cx="341.24" cy="465.60" r="0.82"/><circle cx="349.96" cy="465.60" r="0.82"/><circle cx="358.68" cy="465.60" r="0.82"/><circle cx="367.40" cy="465.60" r="0.82"/><circle cx="328.16" cy="469.96" r="0.82"/><circle cx="336.88" cy="469.96" r="0.82"/><circle cx="345.60" cy="469.96" r="0.82"/><circle cx="354.32" cy="469.96" r="0.82"/><circle cx="363.04" cy="469.96" r="0.82"/><circle cx="323.80" cy="474.32" r="0.82"/><circle cx="332.52" cy="474.32" r="0.82"/><circle cx="341.24" cy="474.32" r="0.82"/><circle cx="349.96" cy="474.32" r="0.82"/><circle cx="358.68" cy="474.32" r="0.82"/><circle cx="367.40" cy="474.32" r="0.82"/><circle cx="328.16" cy="478.68" r="0.82"/><circle cx="336.88" cy="478.68" r="0.82"/><circle cx="345.60" cy="478.68" r="0.82"/><circle cx="354.32" cy="478.68" r="0.82"/><circle cx="363.04" cy="478.68" r="0.82"/><circle cx="323.80" cy="483.04" r="0.82"/><circle cx="332.52" cy="483.04" r="0.82"/><circle cx="341.24" cy="483.04" r="0.82"/><circle cx="349.96" cy="483.04" r="0.82"/><circle cx="358.68" cy="483.04" r="0.82"/><circle cx="367.40" cy="483.04" r="0.82"/><circle cx="328.16" cy="487.40" r="0.82"/><circle cx="336.88" cy="487.40" r="0.82"/><circle cx="345.60" cy="487.40" r="0.82"/><circle cx="354.32" cy="487.40" r="0.82"/><circle cx="363.04" cy="487.40" r="0.82"/><circle cx="323.80" cy="491.76" r="0.82"/><circle cx="332.52" cy="491.76" r="0.82"/><circle cx="341.24" cy="491.76" r="0.82"/><circle cx="349.96" cy="491.76" r="0.82"/><circle cx="358.68" cy="491.76" r="0.82"/><circle cx="367.40" cy="491.76" r="0.82"/><circle cx="328.16" cy="496.12" r="0.82"/><circle cx="336.88" cy="496.12" r="0.82"/><circle cx="345.60" cy="496.12" r="0.82"/><circle cx="354.32" cy="496.12" r="0.82"/><circle cx="363.04" cy="496.12" r="0.82"/></g>
</g>
<rect x="338.00" y="208.00" width="29.80" height="288.00" fill="none" stroke="#111" stroke-width="1.35"/>
<clipPath id="c9"><rect x="400.00" y="464.20" width="26.60" height="31.80"/></clipPath>
<rect x="400.00" y="464.20" width="26.60" height="31.80" fill="#fff"/>
<g clip-path="url(#c9)">
<path d="M397.00 433.88L429.60 464.60M397.00 442.30L429.60 473.02M397.00 450.73L429.60 481.45M397.00 459.15L429.60 489.87M397.00 467.57L429.60 498.29M397.00 476.00L429.60 506.72M397.00 484.42L429.60 515.14M397.00 492.84L429.60 523.56M397.00 501.26L429.60 531.98" stroke="#000" stroke-width="2.3" fill="none"/>
</g>
<rect x="400.00" y="464.20" width="26.60" height="31.80" fill="none" stroke="#111" stroke-width="1.35"/>
<clipPath id="c10"><rect x="428.40" y="56.20" width="30.80" height="439.80"/></clipPath>
<rect x="428.40" y="56.20" width="30.80" height="439.80" fill="#fff"/>
<g clip-path="url(#c10)">
<path d="M432.82 56.20V496.00M437.18 56.20V496.00M441.54 56.20V496.00M445.90 56.20V496.00M450.26 56.20V496.00M454.62 56.20V496.00" stroke="#000" stroke-width="1.25" fill="none"/>
</g>
<rect x="428.40" y="56.20" width="30.80" height="439.80" fill="none" stroke="#111" stroke-width="1.35"/>
<clipPath id="c11"><rect x="456.70" y="361.80" width="30.80" height="134.20"/></clipPath>
<rect x="456.70" y="361.80" width="30.80" height="134.20" fill="#fff"/>
<g clip-path="url(#c11)">
<g fill="#222"><circle cx="441.52" cy="356.60" r="0.82"/><circle cx="450.24" cy="356.60" r="0.82"/><circle cx="458.96" cy="356.60" r="0.82"/><circle cx="467.68" cy="356.60" r="0.82"/><circle cx="476.40" cy="356.60" r="0.82"/><circle cx="485.12" cy="356.60" r="0.82"/><circle cx="445.88" cy="360.96" r="0.82"/><circle cx="454.60" cy="360.96" r="0.82"/><circle cx="463.32" cy="360.96" r="0.82"/><circle cx="472.04" cy="360.96" r="0.82"/><circle cx="480.76" cy="360.96" r="0.82"/><circle cx="489.48" cy="360.96" r="0.82"/><circle cx="441.52" cy="365.32" r="0.82"/><circle cx="450.24" cy="365.32" r="0.82"/><circle cx="458.96" cy="365.32" r="0.82"/><circle cx="467.68" cy="365.32" r="0.82"/><circle cx="476.40" cy="365.32" r="0.82"/><circle cx="485.12" cy="365.32" r="0.82"/><circle cx="445.88" cy="369.68" r="0.82"/><circle cx="454.60" cy="369.68" r="0.82"/><circle cx="463.32" cy="369.68" r="0.82"/><circle cx="472.04" cy="369.68" r="0.82"/><circle cx="480.76" cy="369.68" r="0.82"/><circle cx="489.48" cy="369.68" r="0.82"/><circle cx="441.52" cy="374.04" r="0.82"/><circle cx="450.24" cy="374.04" r="0.82"/><circle cx="458.96" cy="374.04" r="0.82"/><circle cx="467.68" cy="374.04" r="0.82"/><circle cx="476.40" cy="374.04" r="0.82"/><circle cx="485.12" cy="374.04" r="0.82"/><circle cx="445.88" cy="378.40" r="0.82"/><circle cx="454.60" cy="378.40" r="0.82"/><circle cx="463.32" cy="378.40" r="0.82"/><circle cx="472.04" cy="378.40" r="0.82"/><circle cx="480.76" cy="378.40" r="0.82"/><circle cx="489.48" cy="378.40" r="0.82"/><circle cx="441.52" cy="382.76" r="0.82"/><circle cx="450.24" cy="382.76" r="0.82"/><circle cx="458.96" cy="382.76" r="0.82"/><circle cx="467.68" cy="382.76" r="0.82"/><circle cx="476.40" cy="382.76" r="0.82"/><circle cx="485.12" cy="382.76" r="0.82"/><circle cx="445.88" cy="387.12" r="0.82"/><circle cx="454.60" cy="387.12" r="0.82"/><circle cx="463.32" cy="387.12" r="0.82"/><circle cx="472.04" cy="387.12" r="0.82"/><circle cx="480.76" cy="387.12" r="0.82"/><circle cx="489.48" cy="387.12" r="0.82"/><circle cx="441.52" cy="391.48" r="0.82"/><circle cx="450.24" cy="391.48" r="0.82"/><circle cx="458.96" cy="391.48" r="0.82"/><circle cx="467.68" cy="391.48" r="0.82"/><circle cx="476.40" cy="391.48" r="0.82"/><circle cx="485.12" cy="391.48" r="0.82"/><circle cx="445.88" cy="395.84" r="0.82"/><circle cx="454.60" cy="395.84" r="0.82"/><circle cx="463.32" cy="395.84" r="0.82"/><circle cx="472.04" cy="395.84" r="0.82"/><circle cx="480.76" cy="395.84" r="0.82"/><circle cx="489.48" cy="395.84" r="0.82"/><circle cx="441.52" cy="400.20" r="0.82"/><circle cx="450.24" cy="400.20" r="0.82"/><circle cx="458.96" cy="400.20" r="0.82"/><circle cx="467.68" cy="400.20" r="0.82"/><circle cx="476.40" cy="400.20" r="0.82"/><circle cx="485.12" cy="400.20" r="0.82"/><circle cx="445.88" cy="404.56" r="0.82"/><circle cx="454.60" cy="404.56" r="0.82"/><circle cx="463.32" cy="404.56" r="0.82"/><circle cx="472.04" cy="404.56" r="0.82"/><circle cx="480.76" cy="404.56" r="0.82"/><circle cx="489.48" cy="404.56" r="0.82"/><circle cx="441.52" cy="408.92" r="0.82"/><circle cx="450.24" cy="408.92" r="0.82"/><circle cx="458.96" cy="408.92" r="0.82"/><circle cx="467.68" cy="408.92" r="0.82"/><circle cx="476.40" cy="408.92" r="0.82"/><circle cx="485.12" cy="408.92" r="0.82"/><circle cx="445.88" cy="413.28" r="0.82"/><circle cx="454.60" cy="413.28" r="0.82"/><circle cx="463.32" cy="413.28" r="0.82"/><circle cx="472.04" cy="413.28" r="0.82"/><circle cx="480.76" cy="413.28" r="0.82"/><circle cx="489.48" cy="413.28" r="0.82"/><circle cx="441.52" cy="417.64" r="0.82"/><circle cx="450.24" cy="417.64" r="0.82"/><circle cx="458.96" cy="417.64" r="0.82"/><circle cx="467.68" cy="417.64" r="0.82"/><circle cx="476.40" cy="417.64" r="0.82"/><circle cx="485.12" cy="417.64" r="0.82"/><circle cx="445.88" cy="422.00" r="0.82"/><circle cx="454.60" cy="422.00" r="0.82"/><circle cx="463.32" cy="422.00" r="0.82"/><circle cx="472.04" cy="422.00" r="0.82"/><circle cx="480.76" cy="422.00" r="0.82"/><circle cx="489.48" cy="422.00" r="0.82"/><circle cx="441.52" cy="426.36" r="0.82"/><circle cx="450.24" cy="426.36" r="0.82"/><circle cx="458.96" cy="426.36" r="0.82"/><circle cx="467.68" cy="426.36" r="0.82"/><circle cx="476.40" cy="426.36" r="0.82"/><circle cx="485.12" cy="426.36" r="0.82"/><circle cx="445.88" cy="430.72" r="0.82"/><circle cx="454.60" cy="430.72" r="0.82"/><circle cx="463.32" cy="430.72" r="0.82"/><circle cx="472.04" cy="430.72" r="0.82"/><circle cx="480.76" cy="430.72" r="0.82"/><circle cx="489.48" cy="430.72" r="0.82"/><circle cx="441.52" cy="435.08" r="0.82"/><circle cx="450.24" cy="435.08" r="0.82"/><circle cx="458.96" cy="435.08" r="0.82"/><circle cx="467.68" cy="435.08" r="0.82"/><circle cx="476.40" cy="435.08" r="0.82"/><circle cx="485.12" cy="435.08" r="0.82"/><circle cx="445.88" cy="439.44" r="0.82"/><circle cx="454.60" cy="439.44" r="0.82"/><circle cx="463.32" cy="439.44" r="0.82"/><circle cx="472.04" cy="439.44" r="0.82"/><circle cx="480.76" cy="439.44" r="0.82"/><circle cx="489.48" cy="439.44" r="0.82"/><circle cx="441.52" cy="443.80" r="0.82"/><circle cx="450.24" cy="443.80" r="0.82"/><circle cx="458.96" cy="443.80" r="0.82"/><circle cx="467.68" cy="443.80" r="0.82"/><circle cx="476.40" cy="443.80" r="0.82"/><circle cx="485.12" cy="443.80" r="0.82"/><circle cx="445.88" cy="448.16" r="0.82"/><circle cx="454.60" cy="448.16" r="0.82"/><circle cx="463.32" cy="448.16" r="0.82"/><circle cx="472.04" cy="448.16" r="0.82"/><circle cx="480.76" cy="448.16" r="0.82"/><circle cx="489.48" cy="448.16" r="0.82"/><circle cx="441.52" cy="452.52" r="0.82"/><circle cx="450.24" cy="452.52" r="0.82"/><circle cx="458.96" cy="452.52" r="0.82"/><circle cx="467.68" cy="452.52" r="0.82"/><circle cx="476.40" cy="452.52" r="0.82"/><circle cx="485.12" cy="452.52" r="0.82"/><circle cx="445.88" cy="456.88" r="0.82"/><circle cx="454.60" cy="456.88" r="0.82"/><circle cx="463.32" cy="456.88" r="0.82"/><circle cx="472.04" cy="456.88" r="0.82"/><circle cx="480.76" cy="456.88" r="0.82"/><circle cx="489.48" cy="456.88" r="0.82"/><circle cx="441.52" cy="461.24" r="0.82"/><circle cx="450.24" cy="461.24" r="0.82"/><circle cx="458.96" cy="461.24" r="0.82"/><circle cx="467.68" cy="461.24" r="0.82"/><circle cx="476.40" cy="461.24" r="0.82"/><circle cx="485.12" cy="461.24" r="0.82"/><circle cx="445.88" cy="465.60" r="0.82"/><circle cx="454.60" cy="465.60" r="0.82"/><circle cx="463.32" cy="465.60" r="0.82"/><circle cx="472.04" cy="465.60" r="0.82"/><circle cx="480.76" cy="465.60" r="0.82"/><circle cx="489.48" cy="465.60" r="0.82"/><circle cx="441.52" cy="469.96" r="0.82"/><circle cx="450.24" cy="469.96" r="0.82"/><circle cx="458.96" cy="469.96" r="0.82"/><circle cx="467.68" cy="469.96" r="0.82"/><circle cx="476.40" cy="469.96" r="0.82"/><circle cx="485.12" cy="469.96" r="0.82"/><circle cx="445.88" cy="474.32" r="0.82"/><circle cx="454.60" cy="474.32" r="0.82"/><circle cx="463.32" cy="474.32" r="0.82"/><circle cx="472.04" cy="474.32" r="0.82"/><circle cx="480.76" cy="474.32" r="0.82"/><circle cx="489.48" cy="474.32" r="0.82"/><circle cx="441.52" cy="478.68" r="0.82"/><circle cx="450.24" cy="478.68" r="0.82"/><circle cx="458.96" cy="478.68" r="0.82"/><circle cx="467.68" cy="478.68" r="0.82"/><circle cx="476.40" cy="478.68" r="0.82"/><circle cx="485.12" cy="478.68" r="0.82"/><circle cx="445.88" cy="483.04" r="0.82"/><circle cx="454.60" cy="483.04" r="0.82"/><circle cx="463.32" cy="483.04" r="0.82"/><circle cx="472.04" cy="483.04" r="0.82"/><circle cx="480.76" cy="483.04" r="0.82"/><circle cx="489.48" cy="483.04" r="0.82"/><circle cx="441.52" cy="487.40" r="0.82"/><circle cx="450.24" cy="487.40" r="0.82"/><circle cx="458.96" cy="487.40" r="0.82"/><circle cx="467.68" cy="487.40" r="0.82"/><circle cx="476.40" cy="487.40" r="0.82"/><circle cx="485.12" cy="487.40" r="0.82"/><circle cx="445.88" cy="491.76" r="0.82"/><circle cx="454.60" cy="491.76" r="0.82"/><circle cx="463.32" cy="491.76" r="0.82"/><circle cx="472.04" cy="491.76" r="0.82"/><circle cx="480.76" cy="491.76" r="0.82"/><circle cx="489.48" cy="491.76" r="0.82"/><circle cx="441.52" cy="496.12" r="0.82"/><circle cx="450.24" cy="496.12" r="0.82"/><circle cx="458.96" cy="496.12" r="0.82"/><circle cx="467.68" cy="496.12" r="0.82"/><circle cx="476.40" cy="496.12" r="0.82"/><circle cx="485.12" cy="496.12" r="0.82"/></g>
</g>
<rect x="456.70" y="361.80" width="30.80" height="134.20" fill="none" stroke="#111" stroke-width="1.35"/>
<clipPath id="c12"><rect x="494.60" y="449.80" width="26.60" height="47.40"/></clipPath>
<rect x="494.60" y="449.80" width="26.60" height="47.40" fill="#fff"/>
<g clip-path="url(#c12)">
<path d="M491.60 413.53L524.20 444.25M491.60 421.95L524.20 452.67M491.60 430.37L524.20 461.10M491.60 438.80L524.20 469.52M491.60 447.22L524.20 477.94M491.60 455.64L524.20 486.36M491.60 464.07L524.20 494.79M491.60 472.49L524.20 503.21M491.60 480.91L524.20 511.63M491.60 489.34L524.20 520.06M491.60 497.76L524.20 528.48" stroke="#000" stroke-width="2.3" fill="none"/>
</g>
<rect x="494.60" y="449.80" width="26.60" height="47.40" fill="none" stroke="#111" stroke-width="1.35"/>
<clipPath id="c13"><rect x="521.40" y="106.60" width="30.30" height="389.40"/></clipPath>
<rect x="521.40" y="106.60" width="30.30" height="389.40" fill="#fff"/>
<g clip-path="url(#c13)">
<path d="M524.38 106.60V496.00M528.74 106.60V496.00M533.10 106.60V496.00M537.46 106.60V496.00M541.82 106.60V496.00M546.18 106.60V496.00M550.54 106.60V496.00" stroke="#000" stroke-width="1.25" fill="none"/>
</g>
<rect x="521.40" y="106.60" width="30.30" height="389.40" fill="none" stroke="#111" stroke-width="1.35"/>
<clipPath id="c14"><rect x="549.40" y="314.50" width="31.20" height="181.50"/></clipPath>
<rect x="549.40" y="314.50" width="31.20" height="181.50" fill="#fff"/>
<g clip-path="url(#c14)">
<g fill="#222"><circle cx="533.08" cy="308.64" r="0.82"/><circle cx="541.80" cy="308.64" r="0.82"/><circle cx="550.52" cy="308.64" r="0.82"/><circle cx="559.24" cy="308.64" r="0.82"/><circle cx="567.96" cy="308.64" r="0.82"/><circle cx="576.68" cy="308.64" r="0.82"/><circle cx="537.44" cy="313.00" r="0.82"/><circle cx="546.16" cy="313.00" r="0.82"/><circle cx="554.88" cy="313.00" r="0.82"/><circle cx="563.60" cy="313.00" r="0.82"/><circle cx="572.32" cy="313.00" r="0.82"/><circle cx="581.04" cy="313.00" r="0.82"/><circle cx="533.08" cy="317.36" r="0.82"/><circle cx="541.80" cy="317.36" r="0.82"/><circle cx="550.52" cy="317.36" r="0.82"/><circle cx="559.24" cy="317.36" r="0.82"/><circle cx="567.96" cy="317.36" r="0.82"/><circle cx="576.68" cy="317.36" r="0.82"/><circle cx="537.44" cy="321.72" r="0.82"/><circle cx="546.16" cy="321.72" r="0.82"/><circle cx="554.88" cy="321.72" r="0.82"/><circle cx="563.60" cy="321.72" r="0.82"/><circle cx="572.32" cy="321.72" r="0.82"/><circle cx="581.04" cy="321.72" r="0.82"/><circle cx="533.08" cy="326.08" r="0.82"/><circle cx="541.80" cy="326.08" r="0.82"/><circle cx="550.52" cy="326.08" r="0.82"/><circle cx="559.24" cy="326.08" r="0.82"/><circle cx="567.96" cy="326.08" r="0.82"/><circle cx="576.68" cy="326.08" r="0.82"/><circle cx="537.44" cy="330.44" r="0.82"/><circle cx="546.16" cy="330.44" r="0.82"/><circle cx="554.88" cy="330.44" r="0.82"/><circle cx="563.60" cy="330.44" r="0.82"/><circle cx="572.32" cy="330.44" r="0.82"/><circle cx="581.04" cy="330.44" r="0.82"/><circle cx="533.08" cy="334.80" r="0.82"/><circle cx="541.80" cy="334.80" r="0.82"/><circle cx="550.52" cy="334.80" r="0.82"/><circle cx="559.24" cy="334.80" r="0.82"/><circle cx="567.96" cy="334.80" r="0.82"/><circle cx="576.68" cy="334.80" r="0.82"/><circle cx="537.44" cy="339.16" r="0.82"/><circle cx="546.16" cy="339.16" r="0.82"/><circle cx="554.88" cy="339.16" r="0.82"/><circle cx="563.60" cy="339.16" r="0.82"/><circle cx="572.32" cy="339.16" r="0.82"/><circle cx="581.04" cy="339.16" r="0.82"/><circle cx="533.08" cy="343.52" r="0.82"/><circle cx="541.80" cy="343.52" r="0.82"/><circle cx="550.52" cy="343.52" r="0.82"/><circle cx="559.24" cy="343.52" r="0.82"/><circle cx="567.96" cy="343.52" r="0.82"/><circle cx="576.68" cy="343.52" r="0.82"/><circle cx="537.44" cy="347.88" r="0.82"/><circle cx="546.16" cy="347.88" r="0.82"/><circle cx="554.88" cy="347.88" r="0.82"/><circle cx="563.60" cy="347.88" r="0.82"/><circle cx="572.32" cy="347.88" r="0.82"/><circle cx="581.04" cy="347.88" r="0.82"/><circle cx="533.08" cy="352.24" r="0.82"/><circle cx="541.80" cy="352.24" r="0.82"/><circle cx="550.52" cy="352.24" r="0.82"/><circle cx="559.24" cy="352.24" r="0.82"/><circle cx="567.96" cy="352.24" r="0.82"/><circle cx="576.68" cy="352.24" r="0.82"/><circle cx="537.44" cy="356.60" r="0.82"/><circle cx="546.16" cy="356.60" r="0.82"/><circle cx="554.88" cy="356.60" r="0.82"/><circle cx="563.60" cy="356.60" r="0.82"/><circle cx="572.32" cy="356.60" r="0.82"/><circle cx="581.04" cy="356.60" r="0.82"/><circle cx="533.08" cy="360.96" r="0.82"/><circle cx="541.80" cy="360.96" r="0.82"/><circle cx="550.52" cy="360.96" r="0.82"/><circle cx="559.24" cy="360.96" r="0.82"/><circle cx="567.96" cy="360.96" r="0.82"/><circle cx="576.68" cy="360.96" r="0.82"/><circle cx="537.44" cy="365.32" r="0.82"/><circle cx="546.16" cy="365.32" r="0.82"/><circle cx="554.88" cy="365.32" r="0.82"/><circle cx="563.60" cy="365.32" r="0.82"/><circle cx="572.32" cy="365.32" r="0.82"/><circle cx="581.04" cy="365.32" r="0.82"/><circle cx="533.08" cy="369.68" r="0.82"/><circle cx="541.80" cy="369.68" r="0.82"/><circle cx="550.52" cy="369.68" r="0.82"/><circle cx="559.24" cy="369.68" r="0.82"/><circle cx="567.96" cy="369.68" r="0.82"/><circle cx="576.68" cy="369.68" r="0.82"/><circle cx="537.44" cy="374.04" r="0.82"/><circle cx="546.16" cy="374.04" r="0.82"/><circle cx="554.88" cy="374.04" r="0.82"/><circle cx="563.60" cy="374.04" r="0.82"/><circle cx="572.32" cy="374.04" r="0.82"/><circle cx="581.04" cy="374.04" r="0.82"/><circle cx="533.08" cy="378.40" r="0.82"/><circle cx="541.80" cy="378.40" r="0.82"/><circle cx="550.52" cy="378.40" r="0.82"/><circle cx="559.24" cy="378.40" r="0.82"/><circle cx="567.96" cy="378.40" r="0.82"/><circle cx="576.68" cy="378.40" r="0.82"/><circle cx="537.44" cy="382.76" r="0.82"/><circle cx="546.16" cy="382.76" r="0.82"/><circle cx="554.88" cy="382.76" r="0.82"/><circle cx="563.60" cy="382.76" r="0.82"/><circle cx="572.32" cy="382.76" r="0.82"/><circle cx="581.04" cy="382.76" r="0.82"/><circle cx="533.08" cy="387.12" r="0.82"/><circle cx="541.80" cy="387.12" r="0.82"/><circle cx="550.52" cy="387.12" r="0.82"/><circle cx="559.24" cy="387.12" r="0.82"/><circle cx="567.96" cy="387.12" r="0.82"/><circle cx="576.68" cy="387.12" r="0.82"/><circle cx="537.44" cy="391.48" r="0.82"/><circle cx="546.16" cy="391.48" r="0.82"/><circle cx="554.88" cy="391.48" r="0.82"/><circle cx="563.60" cy="391.48" r="0.82"/><circle cx="572.32" cy="391.48" r="0.82"/><circle cx="581.04" cy="391.48" r="0.82"/><circle cx="533.08" cy="395.84" r="0.82"/><circle cx="541.80" cy="395.84" r="0.82"/><circle cx="550.52" cy="395.84" r="0.82"/><circle cx="559.24" cy="395.84" r="0.82"/><circle cx="567.96" cy="395.84" r="0.82"/><circle cx="576.68" cy="395.84" r="0.82"/><circle cx="537.44" cy="400.20" r="0.82"/><circle cx="546.16" cy="400.20" r="0.82"/><circle cx="554.88" cy="400.20" r="0.82"/><circle cx="563.60" cy="400.20" r="0.82"/><circle cx="572.32" cy="400.20" r="0.82"/><circle cx="581.04" cy="400.20" r="0.82"/><circle cx="533.08" cy="404.56" r="0.82"/><circle cx="541.80" cy="404.56" r="0.82"/><circle cx="550.52" cy="404.56" r="0.82"/><circle cx="559.24" cy="404.56" r="0.82"/><circle cx="567.96" cy="404.56" r="0.82"/><circle cx="576.68" cy="404.56" r="0.82"/><circle cx="537.44" cy="408.92" r="0.82"/><circle cx="546.16" cy="408.92" r="0.82"/><circle cx="554.88" cy="408.92" r="0.82"/><circle cx="563.60" cy="408.92" r="0.82"/><circle cx="572.32" cy="408.92" r="0.82"/><circle cx="581.04" cy="408.92" r="0.82"/><circle cx="533.08" cy="413.28" r="0.82"/><circle cx="541.80" cy="413.28" r="0.82"/><circle cx="550.52" cy="413.28" r="0.82"/><circle cx="559.24" cy="413.28" r="0.82"/><circle cx="567.96" cy="413.28" r="0.82"/><circle cx="576.68" cy="413.28" r="0.82"/><circle cx="537.44" cy="417.64" r="0.82"/><circle cx="546.16" cy="417.64" r="0.82"/><circle cx="554.88" cy="417.64" r="0.82"/><circle cx="563.60" cy="417.64" r="0.82"/><circle cx="572.32" cy="417.64" r="0.82"/><circle cx="581.04" cy="417.64" r="0.82"/><circle cx="533.08" cy="422.00" r="0.82"/><circle cx="541.80" cy="422.00" r="0.82"/><circle cx="550.52" cy="422.00" r="0.82"/><circle cx="559.24" cy="422.00" r="0.82"/><circle cx="567.96" cy="422.00" r="0.82"/><circle cx="576.68" cy="422.00" r="0.82"/><circle cx="537.44" cy="426.36" r="0.82"/><circle cx="546.16" cy="426.36" r="0.82"/><circle cx="554.88" cy="426.36" r="0.82"/><circle cx="563.60" cy="426.36" r="0.82"/><circle cx="572.32" cy="426.36" r="0.82"/><circle cx="581.04" cy="426.36" r="0.82"/><circle cx="533.08" cy="430.72" r="0.82"/><circle cx="541.80" cy="430.72" r="0.82"/><circle cx="550.52" cy="430.72" r="0.82"/><circle cx="559.24" cy="430.72" r="0.82"/><circle cx="567.96" cy="430.72" r="0.82"/><circle cx="576.68" cy="430.72" r="0.82"/><circle cx="537.44" cy="435.08" r="0.82"/><circle cx="546.16" cy="435.08" r="0.82"/><circle cx="554.88" cy="435.08" r="0.82"/><circle cx="563.60" cy="435.08" r="0.82"/><circle cx="572.32" cy="435.08" r="0.82"/><circle cx="581.04" cy="435.08" r="0.82"/><circle cx="533.08" cy="439.44" r="0.82"/><circle cx="541.80" cy="439.44" r="0.82"/><circle cx="550.52" cy="439.44" r="0.82"/><circle cx="559.24" cy="439.44" r="0.82"/><circle cx="567.96" cy="439.44" r="0.82"/><circle cx="576.68" cy="439.44" r="0.82"/><circle cx="537.44" cy="443.80" r="0.82"/><circle cx="546.16" cy="443.80" r="0.82"/><circle cx="554.88" cy="443.80" r="0.82"/><circle cx="563.60" cy="443.80" r="0.82"/><circle cx="572.32" cy="443.80" r="0.82"/><circle cx="581.04" cy="443.80" r="0.82"/><circle cx="533.08" cy="448.16" r="0.82"/><circle cx="541.80" cy="448.16" r="0.82"/><circle cx="550.52" cy="448.16" r="0.82"/><circle cx="559.24" cy="448.16" r="0.82"/><circle cx="567.96" cy="448.16" r="0.82"/><circle cx="576.68" cy="448.16" r="0.82"/><circle cx="537.44" cy="452.52" r="0.82"/><circle cx="546.16" cy="452.52" r="0.82"/><circle cx="554.88" cy="452.52" r="0.82"/><circle cx="563.60" cy="452.52" r="0.82"/><circle cx="572.32" cy="452.52" r="0.82"/><circle cx="581.04" cy="452.52" r="0.82"/><circle cx="533.08" cy="456.88" r="0.82"/><circle cx="541.80" cy="456.88" r="0.82"/><circle cx="550.52" cy="456.88" r="0.82"/><circle cx="559.24" cy="456.88" r="0.82"/><circle cx="567.96" cy="456.88" r="0.82"/><circle cx="576.68" cy="456.88" r="0.82"/><circle cx="537.44" cy="461.24" r="0.82"/><circle cx="546.16" cy="461.24" r="0.82"/><circle cx="554.88" cy="461.24" r="0.82"/><circle cx="563.60" cy="461.24" r="0.82"/><circle cx="572.32" cy="461.24" r="0.82"/><circle cx="581.04" cy="461.24" r="0.82"/><circle cx="533.08" cy="465.60" r="0.82"/><circle cx="541.80" cy="465.60" r="0.82"/><circle cx="550.52" cy="465.60" r="0.82"/><circle cx="559.24" cy="465.60" r="0.82"/><circle cx="567.96" cy="465.60" r="0.82"/><circle cx="576.68" cy="465.60" r="0.82"/><circle cx="537.44" cy="469.96" r="0.82"/><circle cx="546.16" cy="469.96" r="0.82"/><circle cx="554.88" cy="469.96" r="0.82"/><circle cx="563.60" cy="469.96" r="0.82"/><circle cx="572.32" cy="469.96" r="0.82"/><circle cx="581.04" cy="469.96" r="0.82"/><circle cx="533.08" cy="474.32" r="0.82"/><circle cx="541.80" cy="474.32" r="0.82"/><circle cx="550.52" cy="474.32" r="0.82"/><circle cx="559.24" cy="474.32" r="0.82"/><circle cx="567.96" cy="474.32" r="0.82"/><circle cx="576.68" cy="474.32" r="0.82"/><circle cx="537.44" cy="478.68" r="0.82"/><circle cx="546.16" cy="478.68" r="0.82"/><circle cx="554.88" cy="478.68" r="0.82"/><circle cx="563.60" cy="478.68" r="0.82"/><circle cx="572.32" cy="478.68" r="0.82"/><circle cx="581.04" cy="478.68" r="0.82"/><circle cx="533.08" cy="483.04" r="0.82"/><circle cx="541.80" cy="483.04" r="0.82"/><circle cx="550.52" cy="483.04" r="0.82"/><circle cx="559.24" cy="483.04" r="0.82"/><circle cx="567.96" cy="483.04" r="0.82"/><circle cx="576.68" cy="483.04" r="0.82"/><circle cx="537.44" cy="487.40" r="0.82"/><circle cx="546.16" cy="487.40" r="0.82"/><circle cx="554.88" cy="487.40" r="0.82"/><circle cx="563.60" cy="487.40" r="0.82"/><circle cx="572.32" cy="487.40" r="0.82"/><circle cx="581.04" cy="487.40" r="0.82"/><circle cx="533.08" cy="491.76" r="0.82"/><circle cx="541.80" cy="491.76" r="0.82"/><circle cx="550.52" cy="491.76" r="0.82"/><circle cx="559.24" cy="491.76" r="0.82"/><circle cx="567.96" cy="491.76" r="0.82"/><circle cx="576.68" cy="491.76" r="0.82"/><circle cx="537.44" cy="496.12" r="0.82"/><circle cx="546.16" cy="496.12" r="0.82"/><circle cx="554.88" cy="496.12" r="0.82"/><circle cx="563.60" cy="496.12" r="0.82"/><circle cx="572.32" cy="496.12" r="0.82"/><circle cx="581.04" cy="496.12" r="0.82"/></g>
</g>
<rect x="549.40" y="314.50" width="31.20" height="181.50" fill="none" stroke="#111" stroke-width="1.35"/>
<clipPath id="c15"><rect x="589.70" y="450.10" width="27.10" height="45.90"/></clipPath>
<rect x="589.70" y="450.10" width="27.10" height="45.90" fill="#fff"/>
<g clip-path="url(#c15)">
<path d="M586.70 418.92L619.80 450.11M586.70 427.34L619.80 458.53M586.70 435.76L619.80 466.95M586.70 444.19L619.80 475.38M586.70 452.61L619.80 483.80M586.70 461.03L619.80 492.22M586.70 469.45L619.80 500.65M586.70 477.88L619.80 509.07M586.70 486.30L619.80 517.49M586.70 494.72L619.80 525.92" stroke="#000" stroke-width="2.3" fill="none"/>
</g>
<rect x="589.70" y="450.10" width="27.10" height="45.90" fill="none" stroke="#111" stroke-width="1.35"/>
<clipPath id="c16"><rect x="616.70" y="253.20" width="30.10" height="243.20"/></clipPath>
<rect x="616.70" y="253.20" width="30.10" height="243.20" fill="#fff"/>
<g clip-path="url(#c16)">
<path d="M620.30 253.20V496.40M624.66 253.20V496.40M629.02 253.20V496.40M633.38 253.20V496.40M637.74 253.20V496.40M642.10 253.20V496.40" stroke="#000" stroke-width="1.25" fill="none"/>
</g>
<rect x="616.70" y="253.20" width="30.10" height="243.20" fill="none" stroke="#111" stroke-width="1.35"/>
<clipPath id="c17"><rect x="646.40" y="163.80" width="31.10" height="333.00"/></clipPath>
<rect x="646.40" y="163.80" width="31.10" height="333.00" fill="#fff"/>
<g clip-path="url(#c17)">
<g fill="#222"><circle cx="633.36" cy="156.04" r="0.82"/><circle cx="642.08" cy="156.04" r="0.82"/><circle cx="650.80" cy="156.04" r="0.82"/><circle cx="659.52" cy="156.04" r="0.82"/><circle cx="668.24" cy="156.04" r="0.82"/><circle cx="676.96" cy="156.04" r="0.82"/><circle cx="629.00" cy="160.40" r="0.82"/><circle cx="637.72" cy="160.40" r="0.82"/><circle cx="646.44" cy="160.40" r="0.82"/><circle cx="655.16" cy="160.40" r="0.82"/><circle cx="663.88" cy="160.40" r="0.82"/><circle cx="672.60" cy="160.40" r="0.82"/><circle cx="633.36" cy="164.76" r="0.82"/><circle cx="642.08" cy="164.76" r="0.82"/><circle cx="650.80" cy="164.76" r="0.82"/><circle cx="659.52" cy="164.76" r="0.82"/><circle cx="668.24" cy="164.76" r="0.82"/><circle cx="676.96" cy="164.76" r="0.82"/><circle cx="629.00" cy="169.12" r="0.82"/><circle cx="637.72" cy="169.12" r="0.82"/><circle cx="646.44" cy="169.12" r="0.82"/><circle cx="655.16" cy="169.12" r="0.82"/><circle cx="663.88" cy="169.12" r="0.82"/><circle cx="672.60" cy="169.12" r="0.82"/><circle cx="633.36" cy="173.48" r="0.82"/><circle cx="642.08" cy="173.48" r="0.82"/><circle cx="650.80" cy="173.48" r="0.82"/><circle cx="659.52" cy="173.48" r="0.82"/><circle cx="668.24" cy="173.48" r="0.82"/><circle cx="676.96" cy="173.48" r="0.82"/><circle cx="629.00" cy="177.84" r="0.82"/><circle cx="637.72" cy="177.84" r="0.82"/><circle cx="646.44" cy="177.84" r="0.82"/><circle cx="655.16" cy="177.84" r="0.82"/><circle cx="663.88" cy="177.84" r="0.82"/><circle cx="672.60" cy="177.84" r="0.82"/><circle cx="633.36" cy="182.20" r="0.82"/><circle cx="642.08" cy="182.20" r="0.82"/><circle cx="650.80" cy="182.20" r="0.82"/><circle cx="659.52" cy="182.20" r="0.82"/><circle cx="668.24" cy="182.20" r="0.82"/><circle cx="676.96" cy="182.20" r="0.82"/><circle cx="629.00" cy="186.56" r="0.82"/><circle cx="637.72" cy="186.56" r="0.82"/><circle cx="646.44" cy="186.56" r="0.82"/><circle cx="655.16" cy="186.56" r="0.82"/><circle cx="663.88" cy="186.56" r="0.82"/><circle cx="672.60" cy="186.56" r="0.82"/><circle cx="633.36" cy="190.92" r="0.82"/><circle cx="642.08" cy="190.92" r="0.82"/><circle cx="650.80" cy="190.92" r="0.82"/><circle cx="659.52" cy="190.92" r="0.82"/><circle cx="668.24" cy="190.92" r="0.82"/><circle cx="676.96" cy="190.92" r="0.82"/><circle cx="629.00" cy="195.28" r="0.82"/><circle cx="637.72" cy="195.28" r="0.82"/><circle cx="646.44" cy="195.28" r="0.82"/><circle cx="655.16" cy="195.28" r="0.82"/><circle cx="663.88" cy="195.28" r="0.82"/><circle cx="672.60" cy="195.28" r="0.82"/><circle cx="633.36" cy="199.64" r="0.82"/><circle cx="642.08" cy="199.64" r="0.82"/><circle cx="650.80" cy="199.64" r="0.82"/><circle cx="659.52" cy="199.64" r="0.82"/><circle cx="668.24" cy="199.64" r="0.82"/><circle cx="676.96" cy="199.64" r="0.82"/><circle cx="629.00" cy="204.00" r="0.82"/><circle cx="637.72" cy="204.00" r="0.82"/><circle cx="646.44" cy="204.00" r="0.82"/><circle cx="655.16" cy="204.00" r="0.82"/><circle cx="663.88" cy="204.00" r="0.82"/><circle cx="672.60" cy="204.00" r="0.82"/><circle cx="633.36" cy="208.36" r="0.82"/><circle cx="642.08" cy="208.36" r="0.82"/><circle cx="650.80" cy="208.36" r="0.82"/><circle cx="659.52" cy="208.36" r="0.82"/><circle cx="668.24" cy="208.36" r="0.82"/><circle cx="676.96" cy="208.36" r="0.82"/><circle cx="629.00" cy="212.72" r="0.82"/><circle cx="637.72" cy="212.72" r="0.82"/><circle cx="646.44" cy="212.72" r="0.82"/><circle cx="655.16" cy="212.72" r="0.82"/><circle cx="663.88" cy="212.72" r="0.82"/><circle cx="672.60" cy="212.72" r="0.82"/><circle cx="633.36" cy="217.08" r="0.82"/><circle cx="642.08" cy="217.08" r="0.82"/><circle cx="650.80" cy="217.08" r="0.82"/><circle cx="659.52" cy="217.08" r="0.82"/><circle cx="668.24" cy="217.08" r="0.82"/><circle cx="676.96" cy="217.08" r="0.82"/><circle cx="629.00" cy="221.44" r="0.82"/><circle cx="637.72" cy="221.44" r="0.82"/><circle cx="646.44" cy="221.44" r="0.82"/><circle cx="655.16" cy="221.44" r="0.82"/><circle cx="663.88" cy="221.44" r="0.82"/><circle cx="672.60" cy="221.44" r="0.82"/><circle cx="633.36" cy="225.80" r="0.82"/><circle cx="642.08" cy="225.80" r="0.82"/><circle cx="650.80" cy="225.80" r="0.82"/><circle cx="659.52" cy="225.80" r="0.82"/><circle cx="668.24" cy="225.80" r="0.82"/><circle cx="676.96" cy="225.80" r="0.82"/><circle cx="629.00" cy="230.16" r="0.82"/><circle cx="637.72" cy="230.16" r="0.82"/><circle cx="646.44" cy="230.16" r="0.82"/><circle cx="655.16" cy="230.16" r="0.82"/><circle cx="663.88" cy="230.16" r="0.82"/><circle cx="672.60" cy="230.16" r="0.82"/><circle cx="633.36" cy="234.52" r="0.82"/><circle cx="642.08" cy="234.52" r="0.82"/><circle cx="650.80" cy="234.52" r="0.82"/><circle cx="659.52" cy="234.52" r="0.82"/><circle cx="668.24" cy="234.52" r="0.82"/><circle cx="676.96" cy="234.52" r="0.82"/><circle cx="629.00" cy="238.88" r="0.82"/><circle cx="637.72" cy="238.88" r="0.82"/><circle cx="646.44" cy="238.88" r="0.82"/><circle cx="655.16" cy="238.88" r="0.82"/><circle cx="663.88" cy="238.88" r="0.82"/><circle cx="672.60" cy="238.88" r="0.82"/><circle cx="633.36" cy="243.24" r="0.82"/><circle cx="642.08" cy="243.24" r="0.82"/><circle cx="650.80" cy="243.24" r="0.82"/><circle cx="659.52" cy="243.24" r="0.82"/><circle cx="668.24" cy="243.24" r="0.82"/><circle cx="676.96" cy="243.24" r="0.82"/><circle cx="629.00" cy="247.60" r="0.82"/><circle cx="637.72" cy="247.60" r="0.82"/><circle cx="646.44" cy="247.60" r="0.82"/><circle cx="655.16" cy="247.60" r="0.82"/><circle cx="663.88" cy="247.60" r="0.82"/><circle cx="672.60" cy="247.60" r="0.82"/><circle cx="633.36" cy="251.96" r="0.82"/><circle cx="642.08" cy="251.96" r="0.82"/><circle cx="650.80" cy="251.96" r="0.82"/><circle cx="659.52" cy="251.96" r="0.82"/><circle cx="668.24" cy="251.96" r="0.82"/><circle cx="676.96" cy="251.96" r="0.82"/><circle cx="629.00" cy="256.32" r="0.82"/><circle cx="637.72" cy="256.32" r="0.82"/><circle cx="646.44" cy="256.32" r="0.82"/><circle cx="655.16" cy="256.32" r="0.82"/><circle cx="663.88" cy="256.32" r="0.82"/><circle cx="672.60" cy="256.32" r="0.82"/><circle cx="633.36" cy="260.68" r="0.82"/><circle cx="642.08" cy="260.68" r="0.82"/><circle cx="650.80" cy="260.68" r="0.82"/><circle cx="659.52" cy="260.68" r="0.82"/><circle cx="668.24" cy="260.68" r="0.82"/><circle cx="676.96" cy="260.68" r="0.82"/><circle cx="629.00" cy="265.04" r="0.82"/><circle cx="637.72" cy="265.04" r="0.82"/><circle cx="646.44" cy="265.04" r="0.82"/><circle cx="655.16" cy="265.04" r="0.82"/><circle cx="663.88" cy="265.04" r="0.82"/><circle cx="672.60" cy="265.04" r="0.82"/><circle cx="633.36" cy="269.40" r="0.82"/><circle cx="642.08" cy="269.40" r="0.82"/><circle cx="650.80" cy="269.40" r="0.82"/><circle cx="659.52" cy="269.40" r="0.82"/><circle cx="668.24" cy="269.40" r="0.82"/><circle cx="676.96" cy="269.40" r="0.82"/><circle cx="629.00" cy="273.76" r="0.82"/><circle cx="637.72" cy="273.76" r="0.82"/><circle cx="646.44" cy="273.76" r="0.82"/><circle cx="655.16" cy="273.76" r="0.82"/><circle cx="663.88" cy="273.76" r="0.82"/><circle cx="672.60" cy="273.76" r="0.82"/><circle cx="633.36" cy="278.12" r="0.82"/><circle cx="642.08" cy="278.12" r="0.82"/><circle cx="650.80" cy="278.12" r="0.82"/><circle cx="659.52" cy="278.12" r="0.82"/><circle cx="668.24" cy="278.12" r="0.82"/><circle cx="676.96" cy="278.12" r="0.82"/><circle cx="629.00" cy="282.48" r="0.82"/><circle cx="637.72" cy="282.48" r="0.82"/><circle cx="646.44" cy="282.48" r="0.82"/><circle cx="655.16" cy="282.48" r="0.82"/><circle cx="663.88" cy="282.48" r="0.82"/><circle cx="672.60" cy="282.48" r="0.82"/><circle cx="633.36" cy="286.84" r="0.82"/><circle cx="642.08" cy="286.84" r="0.82"/><circle cx="650.80" cy="286.84" r="0.82"/><circle cx="659.52" cy="286.84" r="0.82"/><circle cx="668.24" cy="286.84" r="0.82"/><circle cx="676.96" cy="286.84" r="0.82"/><circle cx="629.00" cy="291.20" r="0.82"/><circle cx="637.72" cy="291.20" r="0.82"/><circle cx="646.44" cy="291.20" r="0.82"/><circle cx="655.16" cy="291.20" r="0.82"/><circle cx="663.88" cy="291.20" r="0.82"/><circle cx="672.60" cy="291.20" r="0.82"/><circle cx="633.36" cy="295.56" r="0.82"/><circle cx="642.08" cy="295.56" r="0.82"/><circle cx="650.80" cy="295.56" r="0.82"/><circle cx="659.52" cy="295.56" r="0.82"/><circle cx="668.24" cy="295.56" r="0.82"/><circle cx="676.96" cy="295.56" r="0.82"/><circle cx="629.00" cy="299.92" r="0.82"/><circle cx="637.72" cy="299.92" r="0.82"/><circle cx="646.44" cy="299.92" r="0.82"/><circle cx="655.16" cy="299.92" r="0.82"/><circle cx="663.88" cy="299.92" r="0.82"/><circle cx="672.60" cy="299.92" r="0.82"/><circle cx="633.36" cy="304.28" r="0.82"/><circle cx="642.08" cy="304.28" r="0.82"/><circle cx="650.80" cy="304.28" r="0.82"/><circle cx="659.52" cy="304.28" r="0.82"/><circle cx="668.24" cy="304.28" r="0.82"/><circle cx="676.96" cy="304.28" r="0.82"/><circle cx="629.00" cy="308.64" r="0.82"/><circle cx="637.72" cy="308.64" r="0.82"/><circle cx="646.44" cy="308.64" r="0.82"/><circle cx="655.16" cy="308.64" r="0.82"/><circle cx="663.88" cy="308.64" r="0.82"/><circle cx="672.60" cy="308.64" r="0.82"/><circle cx="633.36" cy="313.00" r="0.82"/><circle cx="642.08" cy="313.00" r="0.82"/><circle cx="650.80" cy="313.00" r="0.82"/><circle cx="659.52" cy="313.00" r="0.82"/><circle cx="668.24" cy="313.00" r="0.82"/><circle cx="676.96" cy="313.00" r="0.82"/><circle cx="629.00" cy="317.36" r="0.82"/><circle cx="637.72" cy="317.36" r="0.82"/><circle cx="646.44" cy="317.36" r="0.82"/><circle cx="655.16" cy="317.36" r="0.82"/><circle cx="663.88" cy="317.36" r="0.82"/><circle cx="672.60" cy="317.36" r="0.82"/><circle cx="633.36" cy="321.72" r="0.82"/><circle cx="642.08" cy="321.72" r="0.82"/><circle cx="650.80" cy="321.72" r="0.82"/><circle cx="659.52" cy="321.72" r="0.82"/><circle cx="668.24" cy="321.72" r="0.82"/><circle cx="676.96" cy="321.72" r="0.82"/><circle cx="629.00" cy="326.08" r="0.82"/><circle cx="637.72" cy="326.08" r="0.82"/><circle cx="646.44" cy="326.08" r="0.82"/><circle cx="655.16" cy="326.08" r="0.82"/><circle cx="663.88" cy="326.08" r="0.82"/><circle cx="672.60" cy="326.08" r="0.82"/><circle cx="633.36" cy="330.44" r="0.82"/><circle cx="642.08" cy="330.44" r="0.82"/><circle cx="650.80" cy="330.44" r="0.82"/><circle cx="659.52" cy="330.44" r="0.82"/><circle cx="668.24" cy="330.44" r="0.82"/><circle cx="676.96" cy="330.44" r="0.82"/><circle cx="629.00" cy="334.80" r="0.82"/><circle cx="637.72" cy="334.80" r="0.82"/><circle cx="646.44" cy="334.80" r="0.82"/><circle cx="655.16" cy="334.80" r="0.82"/><circle cx="663.88" cy="334.80" r="0.82"/><circle cx="672.60" cy="334.80" r="0.82"/><circle cx="633.36" cy="339.16" r="0.82"/><circle cx="642.08" cy="339.16" r="0.82"/><circle cx="650.80" cy="339.16" r="0.82"/><circle cx="659.52" cy="339.16" r="0.82"/><circle cx="668.24" cy="339.16" r="0.82"/><circle cx="676.96" cy="339.16" r="0.82"/><circle cx="629.00" cy="343.52" r="0.82"/><circle cx="637.72" cy="343.52" r="0.82"/><circle cx="646.44" cy="343.52" r="0.82"/><circle cx="655.16" cy="343.52" r="0.82"/><circle cx="663.88" cy="343.52" r="0.82"/><circle cx="672.60" cy="343.52" r="0.82"/><circle cx="633.36" cy="347.88" r="0.82"/><circle cx="642.08" cy="347.88" r="0.82"/><circle cx="650.80" cy="347.88" r="0.82"/><circle cx="659.52" cy="347.88" r="0.82"/><circle cx="668.24" cy="347.88" r="0.82"/><circle cx="676.96" cy="347.88" r="0.82"/><circle cx="629.00" cy="352.24" r="0.82"/><circle cx="637.72" cy="352.24" r="0.82"/><circle cx="646.44" cy="352.24" r="0.82"/><circle cx="655.16" cy="352.24" r="0.82"/><circle cx="663.88" cy="352.24" r="0.82"/><circle cx="672.60" cy="352.24" r="0.82"/><circle cx="633.36" cy="356.60" r="0.82"/><circle cx="642.08" cy="356.60" r="0.82"/><circle cx="650.80" cy="356.60" r="0.82"/><circle cx="659.52" cy="356.60" r="0.82"/><circle cx="668.24" cy="356.60" r="0.82"/><circle cx="676.96" cy="356.60" r="0.82"/><circle cx="629.00" cy="360.96" r="0.82"/><circle cx="637.72" cy="360.96" r="0.82"/><circle cx="646.44" cy="360.96" r="0.82"/><circle cx="655.16" cy="360.96" r="0.82"/><circle cx="663.88" cy="360.96" r="0.82"/><circle cx="672.60" cy="360.96" r="0.82"/><circle cx="633.36" cy="365.32" r="0.82"/><circle cx="642.08" cy="365.32" r="0.82"/><circle cx="650.80" cy="365.32" r="0.82"/><circle cx="659.52" cy="365.32" r="0.82"/><circle cx="668.24" cy="365.32" r="0.82"/><circle cx="676.96" cy="365.32" r="0.82"/><circle cx="629.00" cy="369.68" r="0.82"/><circle cx="637.72" cy="369.68" r="0.82"/><circle cx="646.44" cy="369.68" r="0.82"/><circle cx="655.16" cy="369.68" r="0.82"/><circle cx="663.88" cy="369.68" r="0.82"/><circle cx="672.60" cy="369.68" r="0.82"/><circle cx="633.36" cy="374.04" r="0.82"/><circle cx="642.08" cy="374.04" r="0.82"/><circle cx="650.80" cy="374.04" r="0.82"/><circle cx="659.52" cy="374.04" r="0.82"/><circle cx="668.24" cy="374.04" r="0.82"/><circle cx="676.96" cy="374.04" r="0.82"/><circle cx="629.00" cy="378.40" r="0.82"/><circle cx="637.72" cy="378.40" r="0.82"/><circle cx="646.44" cy="378.40" r="0.82"/><circle cx="655.16" cy="378.40" r="0.82"/><circle cx="663.88" cy="378.40" r="0.82"/><circle cx="672.60" cy="378.40" r="0.82"/><circle cx="633.36" cy="382.76" r="0.82"/><circle cx="642.08" cy="382.76" r="0.82"/><circle cx="650.80" cy="382.76" r="0.82"/><circle cx="659.52" cy="382.76" r="0.82"/><circle cx="668.24" cy="382.76" r="0.82"/><circle cx="676.96" cy="382.76" r="0.82"/><circle cx="629.00" cy="387.12" r="0.82"/><circle cx="637.72" cy="387.12" r="0.82"/><circle cx="646.44" cy="387.12" r="0.82"/><circle cx="655.16" cy="387.12" r="0.82"/><circle cx="663.88" cy="387.12" r="0.82"/><circle cx="672.60" cy="387.12" r="0.82"/><circle cx="633.36" cy="391.48" r="0.82"/><circle cx="642.08" cy="391.48" r="0.82"/><circle cx="650.80" cy="391.48" r="0.82"/><circle cx="659.52" cy="391.48" r="0.82"/><circle cx="668.24" cy="391.48" r="0.82"/><circle cx="676.96" cy="391.48" r="0.82"/><circle cx="629.00" cy="395.84" r="0.82"/><circle cx="637.72" cy="395.84" r="0.82"/><circle cx="646.44" cy="395.84" r="0.82"/><circle cx="655.16" cy="395.84" r="0.82"/><circle cx="663.88" cy="395.84" r="0.82"/><circle cx="672.60" cy="395.84" r="0.82"/><circle cx="633.36" cy="400.20" r="0.82"/><circle cx="642.08" cy="400.20" r="0.82"/><circle cx="650.80" cy="400.20" r="0.82"/><circle cx="659.52" cy="400.20" r="0.82"/><circle cx="668.24" cy="400.20" r="0.82"/><circle cx="676.96" cy="400.20" r="0.82"/><circle cx="629.00" cy="404.56" r="0.82"/><circle cx="637.72" cy="404.56" r="0.82"/><circle cx="646.44" cy="404.56" r="0.82"/><circle cx="655.16" cy="404.56" r="0.82"/><circle cx="663.88" cy="404.56" r="0.82"/><circle cx="672.60" cy="404.56" r="0.82"/><circle cx="633.36" cy="408.92" r="0.82"/><circle cx="642.08" cy="408.92" r="0.82"/><circle cx="650.80" cy="408.92" r="0.82"/><circle cx="659.52" cy="408.92" r="0.82"/><circle cx="668.24" cy="408.92" r="0.82"/><circle cx="676.96" cy="408.92" r="0.82"/><circle cx="629.00" cy="413.28" r="0.82"/><circle cx="637.72" cy="413.28" r="0.82"/><circle cx="646.44" cy="413.28" r="0.82"/><circle cx="655.16" cy="413.28" r="0.82"/><circle cx="663.88" cy="413.28" r="0.82"/><circle cx="672.60" cy="413.28" r="0.82"/><circle cx="633.36" cy="417.64" r="0.82"/><circle cx="642.08" cy="417.64" r="0.82"/><circle cx="650.80" cy="417.64" r="0.82"/><circle cx="659.52" cy="417.64" r="0.82"/><circle cx="668.24" cy="417.64" r="0.82"/><circle cx="676.96" cy="417.64" r="0.82"/><circle cx="629.00" cy="422.00" r="0.82"/><circle cx="637.72" cy="422.00" r="0.82"/><circle cx="646.44" cy="422.00" r="0.82"/><circle cx="655.16" cy="422.00" r="0.82"/><circle cx="663.88" cy="422.00" r="0.82"/><circle cx="672.60" cy="422.00" r="0.82"/><circle cx="633.36" cy="426.36" r="0.82"/><circle cx="642.08" cy="426.36" r="0.82"/><circle cx="650.80" cy="426.36" r="0.82"/><circle cx="659.52" cy="426.36" r="0.82"/><circle cx="668.24" cy="426.36" r="0.82"/><circle cx="676.96" cy="426.36" r="0.82"/><circle cx="629.00" cy="430.72" r="0.82"/><circle cx="637.72" cy="430.72" r="0.82"/><circle cx="646.44" cy="430.72" r="0.82"/><circle cx="655.16" cy="430.72" r="0.82"/><circle cx="663.88" cy="430.72" r="0.82"/><circle cx="672.60" cy="430.72" r="0.82"/><circle cx="633.36" cy="435.08" r="0.82"/><circle cx="642.08" cy="435.08" r="0.82"/><circle cx="650.80" cy="435.08" r="0.82"/><circle cx="659.52" cy="435.08" r="0.82"/><circle cx="668.24" cy="435.08" r="0.82"/><circle cx="676.96" cy="435.08" r="0.82"/><circle cx="629.00" cy="439.44" r="0.82"/><circle cx="637.72" cy="439.44" r="0.82"/><circle cx="646.44" cy="439.44" r="0.82"/><circle cx="655.16" cy="439.44" r="0.82"/><circle cx="663.88" cy="439.44" r="0.82"/><circle cx="672.60" cy="439.44" r="0.82"/><circle cx="633.36" cy="443.80" r="0.82"/><circle cx="642.08" cy="443.80" r="0.82"/><circle cx="650.80" cy="443.80" r="0.82"/><circle cx="659.52" cy="443.80" r="0.82"/><circle cx="668.24" cy="443.80" r="0.82"/><circle cx="676.96" cy="443.80" r="0.82"/><circle cx="629.00" cy="448.16" r="0.82"/><circle cx="637.72" cy="448.16" r="0.82"/><circle cx="646.44" cy="448.16" r="0.82"/><circle cx="655.16" cy="448.16" r="0.82"/><circle cx="663.88" cy="448.16" r="0.82"/><circle cx="672.60" cy="448.16" r="0.82"/><circle cx="633.36" cy="452.52" r="0.82"/><circle cx="642.08" cy="452.52" r="0.82"/><circle cx="650.80" cy="452.52" r="0.82"/><circle cx="659.52" cy="452.52" r="0.82"/><circle cx="668.24" cy="452.52" r="0.82"/><circle cx="676.96" cy="452.52" r="0.82"/><circle cx="629.00" cy="456.88" r="0.82"/><circle cx="637.72" cy="456.88" r="0.82"/><circle cx="646.44" cy="456.88" r="0.82"/><circle cx="655.16" cy="456.88" r="0.82"/><circle cx="663.88" cy="456.88" r="0.82"/><circle cx="672.60" cy="456.88" r="0.82"/><circle cx="633.36" cy="461.24" r="0.82"/><circle cx="642.08" cy="461.24" r="0.82"/><circle cx="650.80" cy="461.24" r="0.82"/><circle cx="659.52" cy="461.24" r="0.82"/><circle cx="668.24" cy="461.24" r="0.82"/><circle cx="676.96" cy="461.24" r="0.82"/><circle cx="629.00" cy="465.60" r="0.82"/><circle cx="637.72" cy="465.60" r="0.82"/><circle cx="646.44" cy="465.60" r="0.82"/><circle cx="655.16" cy="465.60" r="0.82"/><circle cx="663.88" cy="465.60" r="0.82"/><circle cx="672.60" cy="465.60" r="0.82"/><circle cx="633.36" cy="469.96" r="0.82"/><circle cx="642.08" cy="469.96" r="0.82"/><circle cx="650.80" cy="469.96" r="0.82"/><circle cx="659.52" cy="469.96" r="0.82"/><circle cx="668.24" cy="469.96" r="0.82"/><circle cx="676.96" cy="469.96" r="0.82"/><circle cx="629.00" cy="474.32" r="0.82"/><circle cx="637.72" cy="474.32" r="0.82"/><circle cx="646.44" cy="474.32" r="0.82"/><circle cx="655.16" cy="474.32" r="0.82"/><circle cx="663.88" cy="474.32" r="0.82"/><circle cx="672.60" cy="474.32" r="0.82"/><circle cx="633.36" cy="478.68" r="0.82"/><circle cx="642.08" cy="478.68" r="0.82"/><circle cx="650.80" cy="478.68" r="0.82"/><circle cx="659.52" cy="478.68" r="0.82"/><circle cx="668.24" cy="478.68" r="0.82"/><circle cx="676.96" cy="478.68" r="0.82"/><circle cx="629.00" cy="483.04" r="0.82"/><circle cx="637.72" cy="483.04" r="0.82"/><circle cx="646.44" cy="483.04" r="0.82"/><circle cx="655.16" cy="483.04" r="0.82"/><circle cx="663.88" cy="483.04" r="0.82"/><circle cx="672.60" cy="483.04" r="0.82"/><circle cx="633.36" cy="487.40" r="0.82"/><circle cx="642.08" cy="487.40" r="0.82"/><circle cx="650.80" cy="487.40" r="0.82"/><circle cx="659.52" cy="487.40" r="0.82"/><circle cx="668.24" cy="487.40" r="0.82"/><circle cx="676.96" cy="487.40" r="0.82"/><circle cx="629.00" cy="491.76" r="0.82"/><circle cx="637.72" cy="491.76" r="0.82"/><circle cx="646.44" cy="491.76" r="0.82"/><circle cx="655.16" cy="491.76" r="0.82"/><circle cx="663.88" cy="491.76" r="0.82"/><circle cx="672.60" cy="491.76" r="0.82"/><circle cx="633.36" cy="496.12" r="0.82"/><circle cx="642.08" cy="496.12" r="0.82"/><circle cx="650.80" cy="496.12" r="0.82"/><circle cx="659.52" cy="496.12" r="0.82"/><circle cx="668.24" cy="496.12" r="0.82"/><circle cx="676.96" cy="496.12" r="0.82"/></g>
</g>
<rect x="646.40" y="163.80" width="31.10" height="333.00" fill="none" stroke="#111" stroke-width="1.35"/>
<clipPath id="c100"><rect x="704.40" y="251.30" width="32.10" height="21.90"/></clipPath>
<rect x="704.40" y="251.30" width="32.10" height="21.90" fill="#fff"/>
<g clip-path="url(#c100)">
<path d="M701.40 222.95L739.50 253.25M701.40 229.95L739.50 260.25M701.40 236.95L739.50 267.26M701.40 243.95L739.50 274.26M701.40 250.95L739.50 281.26M701.40 257.96L739.50 288.26M701.40 264.96L739.50 295.27M701.40 271.96L739.50 302.27" stroke="#000" stroke-width="2.6" fill="none"/>
</g>
<rect x="704.40" y="251.30" width="32.10" height="21.90" fill="none" stroke="#111" stroke-width="1.35"/>
<clipPath id="c101"><rect x="704.40" y="273.20" width="32.10" height="28.30"/></clipPath>
<rect x="704.40" y="273.20" width="32.10" height="28.30" fill="#fff"/>
<g clip-path="url(#c101)">
<path d="M707.50 273.20V301.50M711.86 273.20V301.50M716.22 273.20V301.50M720.58 273.20V301.50M724.94 273.20V301.50M729.30 273.20V301.50M733.66 273.20V301.50" stroke="#000" stroke-width="1.25" fill="none"/>
</g>
<rect x="704.40" y="273.20" width="32.10" height="28.30" fill="none" stroke="#111" stroke-width="1.35"/>
<clipPath id="c102"><rect x="704.40" y="301.50" width="32.10" height="25.10"/></clipPath>
<rect x="704.40" y="301.50" width="32.10" height="25.10" fill="#fff"/>
<g clip-path="url(#c102)">
<g fill="#222"><circle cx="694.40" cy="295.56" r="0.82"/><circle cx="703.12" cy="295.56" r="0.82"/><circle cx="711.84" cy="295.56" r="0.82"/><circle cx="720.56" cy="295.56" r="0.82"/><circle cx="729.28" cy="295.56" r="0.82"/><circle cx="738.00" cy="295.56" r="0.82"/><circle cx="690.04" cy="299.92" r="0.82"/><circle cx="698.76" cy="299.92" r="0.82"/><circle cx="707.48" cy="299.92" r="0.82"/><circle cx="716.20" cy="299.92" r="0.82"/><circle cx="724.92" cy="299.92" r="0.82"/><circle cx="733.64" cy="299.92" r="0.82"/><circle cx="694.40" cy="304.28" r="0.82"/><circle cx="703.12" cy="304.28" r="0.82"/><circle cx="711.84" cy="304.28" r="0.82"/><circle cx="720.56" cy="304.28" r="0.82"/><circle cx="729.28" cy="304.28" r="0.82"/><circle cx="738.00" cy="304.28" r="0.82"/><circle cx="690.04" cy="308.64" r="0.82"/><circle cx="698.76" cy="308.64" r="0.82"/><circle cx="707.48" cy="308.64" r="0.82"/><circle cx="716.20" cy="308.64" r="0.82"/><circle cx="724.92" cy="308.64" r="0.82"/><circle cx="733.64" cy="308.64" r="0.82"/><circle cx="694.40" cy="313.00" r="0.82"/><circle cx="703.12" cy="313.00" r="0.82"/><circle cx="711.84" cy="313.00" r="0.82"/><circle cx="720.56" cy="313.00" r="0.82"/><circle cx="729.28" cy="313.00" r="0.82"/><circle cx="738.00" cy="313.00" r="0.82"/><circle cx="690.04" cy="317.36" r="0.82"/><circle cx="698.76" cy="317.36" r="0.82"/><circle cx="707.48" cy="317.36" r="0.82"/><circle cx="716.20" cy="317.36" r="0.82"/><circle cx="724.92" cy="317.36" r="0.82"/><circle cx="733.64" cy="317.36" r="0.82"/><circle cx="694.40" cy="321.72" r="0.82"/><circle cx="703.12" cy="321.72" r="0.82"/><circle cx="711.84" cy="321.72" r="0.82"/><circle cx="720.56" cy="321.72" r="0.82"/><circle cx="729.28" cy="321.72" r="0.82"/><circle cx="738.00" cy="321.72" r="0.82"/><circle cx="690.04" cy="326.08" r="0.82"/><circle cx="698.76" cy="326.08" r="0.82"/><circle cx="707.48" cy="326.08" r="0.82"/><circle cx="716.20" cy="326.08" r="0.82"/><circle cx="724.92" cy="326.08" r="0.82"/><circle cx="733.64" cy="326.08" r="0.82"/></g>
</g>
<rect x="704.40" y="301.50" width="32.10" height="25.10" fill="none" stroke="#111" stroke-width="1.35"/>
<text x="80.6" y="554.8" class="xr" font-size="22" textLength="50.2" lengthAdjust="spacingAndGlyphs">Poor</text>
<text x="182.4" y="554.8" class="xr" font-size="22" textLength="39.6" lengthAdjust="spacingAndGlyphs">Fair</text>
<text x="285.2" y="554.8" class="xr" font-size="22" textLength="57.4" lengthAdjust="spacingAndGlyphs">Good</text>
<text x="417.8" y="554.8" class="xr" font-size="22" textLength="49.8" lengthAdjust="spacingAndGlyphs">Poor</text>
<text x="525.8" y="554.8" class="xr" font-size="22" textLength="39.4" lengthAdjust="spacingAndGlyphs">Fair</text>
<text x="611.2" y="554.8" class="xr" font-size="22" textLength="57.6" lengthAdjust="spacingAndGlyphs">Good</text>
<text x="349.8" y="597.7" class="sb" font-size="25.5" textLength="126.5" lengthAdjust="spacingAndGlyphs">Soil quality</text>
<text transform="translate(23.6,341.2) rotate(-90)" class="ab" font-size="23" textLength="114.6" lengthAdjust="spacingAndGlyphs">Proportion</text>
<text x="685.6" y="239.7" class="sb" font-size="19.6" textLength="95.6" lengthAdjust="spacingAndGlyphs">Meal count</text>
<text x="748.0" y="266.4" class="sr" font-size="21">1</text>
<text x="748.0" y="291.4" class="sr" font-size="21">2</text>
<text x="748.0" y="317.6" class="sr" font-size="21">3</text>
</svg>
</body></html>
